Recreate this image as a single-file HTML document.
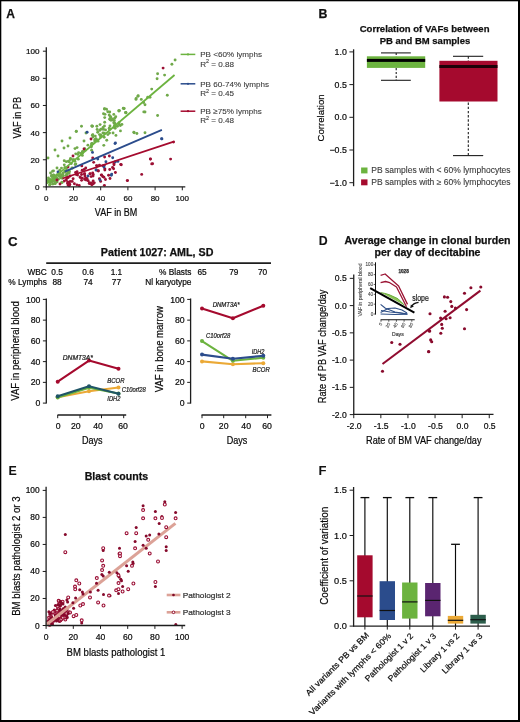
<!DOCTYPE html>
<html><head><meta charset="utf-8"><style>
html,body{margin:0;padding:0;background:#fff;}
body{width:520px;height:722px;overflow:hidden;}
svg{display:block;font-family:"Liberation Sans",sans-serif;filter:blur(0.35px);}
</style></head><body>
<svg width="520" height="722" viewBox="0 0 520 722">
<rect width="520" height="722" fill="#fff"/>
<rect x="0.00" y="0.00" width="520.00" height="1.30" fill="#000" />
<rect x="0.00" y="0.00" width="1.30" height="722.00" fill="#000" />
<rect x="518.00" y="0.00" width="2.00" height="722.00" fill="#000" />
<rect x="0.00" y="720.00" width="520.00" height="2.00" fill="#000" />
<text x="6.30" y="17.90" font-size="13.2" font-weight="bold" textLength="8.70" lengthAdjust="spacingAndGlyphs" fill="#111" stroke="#111" stroke-width="0.25">A</text>
<circle cx="175.10" cy="60.00" r="1.45" fill="#70a94a" />
<circle cx="171.90" cy="64.30" r="1.45" fill="#70a94a" />
<circle cx="157.60" cy="73.70" r="1.45" fill="#70a94a" />
<circle cx="164.60" cy="75.10" r="1.45" fill="#70a94a" />
<circle cx="157.10" cy="78.80" r="1.45" fill="#70a94a" />
<circle cx="151.70" cy="89.10" r="1.45" fill="#70a94a" />
<circle cx="167.30" cy="95.30" r="1.45" fill="#70a94a" />
<circle cx="138.20" cy="95.80" r="1.45" fill="#70a94a" />
<circle cx="136.10" cy="98.50" r="1.45" fill="#70a94a" />
<circle cx="143.60" cy="102.50" r="1.45" fill="#70a94a" />
<circle cx="147.70" cy="97.20" r="1.45" fill="#70a94a" />
<circle cx="150.00" cy="97.30" r="1.45" fill="#70a94a" />
<circle cx="145.00" cy="104.80" r="1.45" fill="#70a94a" />
<circle cx="141.30" cy="99.40" r="1.45" fill="#70a94a" />
<circle cx="145.00" cy="112.00" r="1.45" fill="#70a94a" />
<circle cx="157.60" cy="115.50" r="1.45" fill="#70a94a" />
<circle cx="124.20" cy="108.50" r="1.45" fill="#70a94a" />
<circle cx="119.40" cy="110.60" r="1.45" fill="#70a94a" />
<circle cx="123.50" cy="108.50" r="1.45" fill="#70a94a" />
<circle cx="125.60" cy="112.50" r="1.45" fill="#70a94a" />
<circle cx="143.80" cy="111.90" r="1.45" fill="#70a94a" />
<circle cx="134.20" cy="132.70" r="1.45" fill="#70a94a" />
<circle cx="136.90" cy="133.50" r="1.45" fill="#70a94a" />
<circle cx="145.00" cy="132.70" r="1.45" fill="#70a94a" />
<circle cx="76.30" cy="131.60" r="1.45" fill="#70a94a" />
<circle cx="92.50" cy="126.20" r="1.45" fill="#70a94a" />
<circle cx="106.50" cy="109.30" r="1.45" fill="#70a94a" />
<circle cx="104.40" cy="109.00" r="1.45" fill="#70a94a" />
<circle cx="118.80" cy="110.70" r="1.45" fill="#70a94a" />
<circle cx="125.80" cy="112.80" r="1.45" fill="#70a94a" />
<circle cx="104.60" cy="108.70" r="1.45" fill="#70a94a" />
<circle cx="81.50" cy="126.30" r="1.45" fill="#70a94a" />
<circle cx="91.90" cy="126.00" r="1.45" fill="#70a94a" />
<circle cx="76.30" cy="131.20" r="1.45" fill="#70a94a" />
<circle cx="103.50" cy="113.80" r="1.45" fill="#70a94a" />
<circle cx="109.20" cy="115.00" r="1.45" fill="#70a94a" />
<circle cx="113.80" cy="114.40" r="1.45" fill="#70a94a" />
<circle cx="126.00" cy="112.70" r="1.45" fill="#70a94a" />
<circle cx="123.30" cy="108.30" r="1.45" fill="#70a94a" />
<circle cx="119.00" cy="111.00" r="1.45" fill="#70a94a" />
<circle cx="137.90" cy="96.30" r="1.45" fill="#70a94a" />
<circle cx="136.00" cy="99.40" r="1.45" fill="#70a94a" />
<circle cx="133.80" cy="132.30" r="1.45" fill="#70a94a" />
<circle cx="97.70" cy="132.30" r="1.45" fill="#70a94a" />
<circle cx="92.90" cy="137.10" r="1.45" fill="#70a94a" />
<circle cx="100.10" cy="124.60" r="1.45" fill="#70a94a" />
<circle cx="91.90" cy="126.10" r="1.45" fill="#70a94a" />
<circle cx="62.00" cy="141.00" r="1.45" fill="#70a94a" />
<circle cx="64.00" cy="148.00" r="1.45" fill="#70a94a" />
<circle cx="55.00" cy="150.00" r="1.45" fill="#70a94a" />
<circle cx="48.00" cy="158.00" r="1.45" fill="#70a94a" />
<circle cx="58.00" cy="156.00" r="1.45" fill="#70a94a" />
<circle cx="68.00" cy="146.00" r="1.45" fill="#70a94a" />
<circle cx="70.00" cy="138.00" r="1.45" fill="#70a94a" />
<circle cx="86.00" cy="133.00" r="1.45" fill="#70a94a" />
<circle cx="84.00" cy="141.00" r="1.45" fill="#70a94a" />
<circle cx="91.76" cy="143.51" r="1.45" fill="#70a94a" />
<circle cx="109.71" cy="118.90" r="1.45" fill="#70a94a" />
<circle cx="100.57" cy="136.96" r="1.45" fill="#70a94a" />
<circle cx="80.85" cy="153.36" r="1.45" fill="#70a94a" />
<circle cx="111.00" cy="120.18" r="1.45" fill="#70a94a" />
<circle cx="52.61" cy="171.27" r="1.45" fill="#70a94a" />
<circle cx="81.43" cy="153.52" r="1.45" fill="#70a94a" />
<circle cx="91.64" cy="150.17" r="1.45" fill="#70a94a" />
<circle cx="50.31" cy="182.62" r="1.45" fill="#70a94a" />
<circle cx="114.15" cy="127.38" r="1.45" fill="#70a94a" />
<circle cx="104.17" cy="137.31" r="1.45" fill="#70a94a" />
<circle cx="62.23" cy="178.26" r="1.45" fill="#70a94a" />
<circle cx="91.71" cy="144.21" r="1.45" fill="#70a94a" />
<circle cx="109.23" cy="128.21" r="1.45" fill="#70a94a" />
<circle cx="64.94" cy="171.43" r="1.45" fill="#70a94a" />
<circle cx="115.94" cy="135.42" r="1.45" fill="#70a94a" />
<circle cx="71.90" cy="167.99" r="1.45" fill="#70a94a" />
<circle cx="95.05" cy="139.50" r="1.45" fill="#70a94a" />
<circle cx="66.60" cy="173.89" r="1.45" fill="#70a94a" />
<circle cx="114.35" cy="120.63" r="1.45" fill="#70a94a" />
<circle cx="109.97" cy="125.93" r="1.45" fill="#70a94a" />
<circle cx="62.64" cy="174.94" r="1.45" fill="#70a94a" />
<circle cx="60.94" cy="175.89" r="1.45" fill="#70a94a" />
<circle cx="91.43" cy="145.90" r="1.45" fill="#70a94a" />
<circle cx="48.27" cy="181.73" r="1.45" fill="#70a94a" />
<circle cx="68.40" cy="161.30" r="1.45" fill="#70a94a" />
<circle cx="103.38" cy="129.13" r="1.45" fill="#70a94a" />
<circle cx="82.46" cy="152.96" r="1.45" fill="#70a94a" />
<circle cx="103.80" cy="145.37" r="1.45" fill="#70a94a" />
<circle cx="52.89" cy="184.09" r="1.45" fill="#70a94a" />
<circle cx="101.00" cy="136.05" r="1.45" fill="#70a94a" />
<circle cx="102.97" cy="132.95" r="1.45" fill="#70a94a" />
<circle cx="73.98" cy="159.61" r="1.45" fill="#70a94a" />
<circle cx="52.07" cy="179.89" r="1.45" fill="#70a94a" />
<circle cx="63.03" cy="173.29" r="1.45" fill="#70a94a" />
<circle cx="100.70" cy="134.90" r="1.45" fill="#70a94a" />
<circle cx="115.23" cy="126.71" r="1.45" fill="#70a94a" />
<circle cx="72.69" cy="159.78" r="1.45" fill="#70a94a" />
<circle cx="85.39" cy="150.15" r="1.45" fill="#70a94a" />
<circle cx="99.49" cy="134.60" r="1.45" fill="#70a94a" />
<circle cx="104.43" cy="133.24" r="1.45" fill="#70a94a" />
<circle cx="113.75" cy="122.85" r="1.45" fill="#70a94a" />
<circle cx="53.49" cy="175.28" r="1.45" fill="#70a94a" />
<circle cx="115.16" cy="128.24" r="1.45" fill="#70a94a" />
<circle cx="75.16" cy="164.55" r="1.45" fill="#70a94a" />
<circle cx="69.16" cy="161.79" r="1.45" fill="#70a94a" />
<circle cx="71.29" cy="163.51" r="1.45" fill="#70a94a" />
<circle cx="60.15" cy="174.58" r="1.45" fill="#70a94a" />
<circle cx="97.99" cy="141.16" r="1.45" fill="#70a94a" />
<circle cx="52.32" cy="179.91" r="1.45" fill="#70a94a" />
<circle cx="114.66" cy="118.18" r="1.45" fill="#70a94a" />
<circle cx="64.86" cy="167.48" r="1.45" fill="#70a94a" />
<circle cx="91.22" cy="146.93" r="1.45" fill="#70a94a" />
<circle cx="75.73" cy="153.83" r="1.45" fill="#70a94a" />
<circle cx="53.38" cy="180.08" r="1.45" fill="#70a94a" />
<circle cx="82.74" cy="151.56" r="1.45" fill="#70a94a" />
<circle cx="109.54" cy="133.12" r="1.45" fill="#70a94a" />
<circle cx="117.42" cy="126.32" r="1.45" fill="#70a94a" />
<circle cx="92.77" cy="143.58" r="1.45" fill="#70a94a" />
<circle cx="77.86" cy="154.40" r="1.45" fill="#70a94a" />
<circle cx="60.44" cy="174.84" r="1.45" fill="#70a94a" />
<circle cx="78.59" cy="152.61" r="1.45" fill="#70a94a" />
<circle cx="121.92" cy="124.39" r="1.45" fill="#70a94a" />
<circle cx="74.99" cy="148.61" r="1.45" fill="#70a94a" />
<circle cx="82.33" cy="151.86" r="1.45" fill="#70a94a" />
<circle cx="66.33" cy="161.65" r="1.45" fill="#70a94a" />
<circle cx="78.29" cy="159.13" r="1.45" fill="#70a94a" />
<circle cx="119.08" cy="122.79" r="1.45" fill="#70a94a" />
<circle cx="113.23" cy="120.35" r="1.45" fill="#70a94a" />
<circle cx="70.31" cy="159.44" r="1.45" fill="#70a94a" />
<circle cx="54.56" cy="176.74" r="1.45" fill="#70a94a" />
<circle cx="113.05" cy="132.95" r="1.45" fill="#70a94a" />
<circle cx="74.87" cy="161.27" r="1.45" fill="#70a94a" />
<circle cx="92.84" cy="134.77" r="1.45" fill="#70a94a" />
<circle cx="94.96" cy="141.32" r="1.45" fill="#70a94a" />
<circle cx="95.31" cy="136.10" r="1.45" fill="#70a94a" />
<circle cx="64.24" cy="160.77" r="1.45" fill="#70a94a" />
<circle cx="97.04" cy="139.88" r="1.45" fill="#70a94a" />
<circle cx="72.59" cy="168.11" r="1.45" fill="#70a94a" />
<circle cx="87.89" cy="145.13" r="1.45" fill="#70a94a" />
<circle cx="48.03" cy="180.34" r="1.45" fill="#70a94a" />
<circle cx="94.81" cy="140.10" r="1.45" fill="#70a94a" />
<circle cx="82.37" cy="155.40" r="1.45" fill="#70a94a" />
<circle cx="100.83" cy="129.24" r="1.45" fill="#70a94a" />
<circle cx="70.55" cy="158.40" r="1.45" fill="#70a94a" />
<circle cx="103.02" cy="127.40" r="1.45" fill="#70a94a" />
<circle cx="75.85" cy="163.91" r="1.45" fill="#70a94a" />
<circle cx="92.40" cy="135.15" r="1.45" fill="#70a94a" />
<circle cx="119.18" cy="124.60" r="1.45" fill="#70a94a" />
<circle cx="84.73" cy="148.78" r="1.45" fill="#70a94a" />
<circle cx="63.42" cy="175.77" r="1.45" fill="#70a94a" />
<circle cx="77.04" cy="147.58" r="1.45" fill="#70a94a" />
<circle cx="95.96" cy="138.63" r="1.45" fill="#70a94a" />
<circle cx="57.00" cy="167.95" r="1.45" fill="#70a94a" />
<circle cx="99.71" cy="130.40" r="1.45" fill="#70a94a" />
<circle cx="54.62" cy="177.00" r="1.45" fill="#70a94a" />
<circle cx="60.47" cy="175.21" r="1.45" fill="#70a94a" />
<circle cx="59.75" cy="170.26" r="1.45" fill="#70a94a" />
<circle cx="62.19" cy="176.10" r="1.45" fill="#70a94a" />
<circle cx="50.66" cy="180.97" r="1.45" fill="#70a94a" />
<circle cx="56.99" cy="177.61" r="1.45" fill="#70a94a" />
<circle cx="50.36" cy="184.25" r="1.45" fill="#70a94a" />
<circle cx="54.13" cy="180.83" r="1.45" fill="#70a94a" />
<circle cx="55.07" cy="175.64" r="1.45" fill="#70a94a" />
<circle cx="60.98" cy="177.23" r="1.45" fill="#70a94a" />
<circle cx="52.05" cy="181.78" r="1.45" fill="#70a94a" />
<circle cx="55.48" cy="178.66" r="1.45" fill="#70a94a" />
<circle cx="52.14" cy="180.16" r="1.45" fill="#70a94a" />
<circle cx="64.91" cy="171.56" r="1.45" fill="#70a94a" />
<circle cx="57.13" cy="181.92" r="1.45" fill="#70a94a" />
<circle cx="49.52" cy="184.90" r="1.45" fill="#70a94a" />
<circle cx="57.26" cy="174.80" r="1.45" fill="#70a94a" />
<circle cx="69.01" cy="170.95" r="1.45" fill="#70a94a" />
<circle cx="61.48" cy="168.11" r="1.45" fill="#70a94a" />
<circle cx="62.00" cy="176.20" r="1.45" fill="#70a94a" />
<circle cx="56.19" cy="181.02" r="1.45" fill="#70a94a" />
<circle cx="60.62" cy="177.92" r="1.45" fill="#70a94a" />
<circle cx="69.37" cy="171.42" r="1.45" fill="#70a94a" />
<circle cx="53.91" cy="179.14" r="1.45" fill="#70a94a" />
<circle cx="66.57" cy="170.86" r="1.45" fill="#70a94a" />
<circle cx="58.89" cy="175.82" r="1.45" fill="#70a94a" />
<circle cx="61.43" cy="176.69" r="1.45" fill="#70a94a" />
<circle cx="67.56" cy="172.11" r="1.45" fill="#70a94a" />
<circle cx="53.79" cy="177.95" r="1.45" fill="#70a94a" />
<circle cx="53.63" cy="181.34" r="1.45" fill="#70a94a" />
<circle cx="64.28" cy="164.83" r="1.45" fill="#70a94a" />
<circle cx="69.15" cy="173.00" r="1.45" fill="#70a94a" />
<circle cx="59.22" cy="174.93" r="1.45" fill="#70a94a" />
<circle cx="62.18" cy="182.61" r="1.45" fill="#70a94a" />
<circle cx="53.67" cy="176.13" r="1.45" fill="#70a94a" />
<circle cx="61.75" cy="182.31" r="1.45" fill="#70a94a" />
<circle cx="52.16" cy="179.85" r="1.45" fill="#70a94a" />
<circle cx="60.18" cy="174.95" r="1.45" fill="#70a94a" />
<circle cx="55.52" cy="177.10" r="1.45" fill="#70a94a" />
<circle cx="67.21" cy="174.44" r="1.45" fill="#70a94a" />
<circle cx="66.37" cy="168.84" r="1.45" fill="#70a94a" />
<circle cx="110.90" cy="117.38" r="1.45" fill="#70a94a" />
<circle cx="109.61" cy="129.19" r="1.45" fill="#70a94a" />
<circle cx="114.99" cy="123.47" r="1.45" fill="#70a94a" />
<circle cx="104.70" cy="117.59" r="1.45" fill="#70a94a" />
<circle cx="104.99" cy="114.33" r="1.45" fill="#70a94a" />
<circle cx="109.88" cy="119.49" r="1.45" fill="#70a94a" />
<circle cx="110.33" cy="116.40" r="1.45" fill="#70a94a" />
<circle cx="104.69" cy="122.30" r="1.45" fill="#70a94a" />
<circle cx="107.86" cy="134.58" r="1.45" fill="#70a94a" />
<circle cx="104.46" cy="125.89" r="1.45" fill="#70a94a" />
<circle cx="109.75" cy="111.97" r="1.45" fill="#70a94a" />
<circle cx="114.46" cy="125.56" r="1.45" fill="#70a94a" />
<circle cx="97.14" cy="129.52" r="1.45" fill="#70a94a" />
<circle cx="115.74" cy="116.68" r="1.45" fill="#70a94a" />
<circle cx="120.37" cy="125.43" r="1.45" fill="#70a94a" />
<circle cx="102.94" cy="129.17" r="1.45" fill="#70a94a" />
<circle cx="107.80" cy="111.71" r="1.45" fill="#70a94a" />
<circle cx="96.87" cy="126.25" r="1.45" fill="#70a94a" />
<circle cx="105.50" cy="129.92" r="1.45" fill="#70a94a" />
<circle cx="112.37" cy="119.23" r="1.45" fill="#70a94a" />
<circle cx="106.75" cy="140.23" r="1.45" fill="#70a94a" />
<circle cx="120.45" cy="130.90" r="1.45" fill="#70a94a" />
<circle cx="50.55" cy="172.99" r="1.45" fill="#70a94a" />
<circle cx="53.88" cy="176.52" r="1.45" fill="#70a94a" />
<circle cx="48.42" cy="178.07" r="1.45" fill="#70a94a" />
<circle cx="55.03" cy="183.46" r="1.45" fill="#70a94a" />
<circle cx="52.57" cy="176.26" r="1.45" fill="#70a94a" />
<circle cx="53.53" cy="170.87" r="1.45" fill="#70a94a" />
<circle cx="58.32" cy="179.28" r="1.45" fill="#70a94a" />
<circle cx="66.18" cy="175.61" r="1.45" fill="#70a94a" />
<circle cx="51.62" cy="176.49" r="1.45" fill="#70a94a" />
<circle cx="53.54" cy="175.05" r="1.45" fill="#70a94a" />
<circle cx="51.50" cy="175.39" r="1.45" fill="#70a94a" />
<circle cx="55.24" cy="183.55" r="1.45" fill="#70a94a" />
<circle cx="49.97" cy="179.53" r="1.45" fill="#70a94a" />
<circle cx="150.40" cy="159.10" r="1.45" fill="#9c1034" />
<circle cx="151.70" cy="163.90" r="1.45" fill="#9c1034" />
<circle cx="170.60" cy="159.10" r="1.45" fill="#9c1034" />
<circle cx="127.50" cy="180.60" r="1.45" fill="#9c1034" />
<circle cx="120.70" cy="164.50" r="1.45" fill="#9c1034" />
<circle cx="108.60" cy="175.20" r="1.45" fill="#9c1034" />
<circle cx="115.40" cy="172.50" r="1.45" fill="#9c1034" />
<circle cx="150.40" cy="159.00" r="1.45" fill="#9c1034" />
<circle cx="152.60" cy="163.80" r="1.45" fill="#9c1034" />
<circle cx="121.30" cy="164.80" r="1.45" fill="#9c1034" />
<circle cx="114.00" cy="164.80" r="1.45" fill="#9c1034" />
<circle cx="113.60" cy="168.70" r="1.45" fill="#9c1034" />
<circle cx="141.70" cy="174.40" r="1.45" fill="#9c1034" />
<circle cx="127.30" cy="180.60" r="1.45" fill="#9c1034" />
<circle cx="110.00" cy="178.50" r="1.45" fill="#9c1034" />
<circle cx="173.50" cy="142.10" r="1.45" fill="#9c1034" />
<circle cx="163.10" cy="68.10" r="1.45" fill="#9c1034" />
<circle cx="73.00" cy="156.00" r="1.45" fill="#9c1034" />
<circle cx="84.00" cy="149.00" r="1.45" fill="#9c1034" />
<circle cx="91.00" cy="139.00" r="1.45" fill="#9c1034" />
<circle cx="68.00" cy="167.00" r="1.45" fill="#9c1034" />
<circle cx="60.00" cy="184.00" r="1.45" fill="#9c1034" />
<circle cx="57.00" cy="180.00" r="1.45" fill="#9c1034" />
<circle cx="98.34" cy="170.98" r="1.45" fill="#9c1034" />
<circle cx="84.68" cy="173.79" r="1.45" fill="#9c1034" />
<circle cx="69.82" cy="184.51" r="1.45" fill="#9c1034" />
<circle cx="104.82" cy="168.83" r="1.45" fill="#9c1034" />
<circle cx="112.55" cy="167.54" r="1.45" fill="#9c1034" />
<circle cx="82.24" cy="178.11" r="1.45" fill="#9c1034" />
<circle cx="92.69" cy="158.02" r="1.45" fill="#9c1034" />
<circle cx="84.45" cy="174.00" r="1.45" fill="#9c1034" />
<circle cx="66.72" cy="178.11" r="1.45" fill="#9c1034" />
<circle cx="97.24" cy="166.07" r="1.45" fill="#9c1034" />
<circle cx="93.02" cy="176.00" r="1.45" fill="#9c1034" />
<circle cx="96.45" cy="165.60" r="1.45" fill="#9c1034" />
<circle cx="77.07" cy="171.82" r="1.45" fill="#9c1034" />
<circle cx="104.14" cy="165.33" r="1.45" fill="#9c1034" />
<circle cx="92.69" cy="173.01" r="1.45" fill="#9c1034" />
<circle cx="84.91" cy="175.90" r="1.45" fill="#9c1034" />
<circle cx="104.86" cy="169.96" r="1.45" fill="#9c1034" />
<circle cx="101.63" cy="174.98" r="1.45" fill="#9c1034" />
<circle cx="68.26" cy="177.44" r="1.45" fill="#9c1034" />
<circle cx="70.14" cy="175.95" r="1.45" fill="#9c1034" />
<circle cx="96.31" cy="170.00" r="1.45" fill="#9c1034" />
<circle cx="93.17" cy="181.04" r="1.45" fill="#9c1034" />
<circle cx="81.57" cy="174.51" r="1.45" fill="#9c1034" />
<circle cx="102.78" cy="165.84" r="1.45" fill="#9c1034" />
<circle cx="69.17" cy="185.86" r="1.45" fill="#9c1034" />
<circle cx="103.94" cy="177.23" r="1.45" fill="#9c1034" />
<circle cx="79.21" cy="185.48" r="1.45" fill="#9c1034" />
<circle cx="102.74" cy="176.51" r="1.45" fill="#9c1034" />
<circle cx="109.73" cy="169.47" r="1.45" fill="#9c1034" />
<circle cx="84.84" cy="178.73" r="1.45" fill="#9c1034" />
<circle cx="75.60" cy="172.50" r="1.45" fill="#9c1034" />
<circle cx="84.72" cy="179.39" r="1.45" fill="#9c1034" />
<circle cx="86.78" cy="178.91" r="1.45" fill="#9c1034" />
<circle cx="101.24" cy="175.10" r="1.45" fill="#9c1034" />
<circle cx="104.62" cy="157.05" r="1.45" fill="#9c1034" />
<circle cx="93.20" cy="174.45" r="1.45" fill="#9c1034" />
<circle cx="93.68" cy="162.36" r="1.45" fill="#9c1034" />
<circle cx="84.20" cy="169.42" r="1.45" fill="#9c1034" />
<circle cx="70.28" cy="181.38" r="1.45" fill="#9c1034" />
<circle cx="66.35" cy="179.95" r="1.45" fill="#9c1034" />
<circle cx="109.37" cy="156.03" r="1.45" fill="#9c1034" />
<circle cx="64.34" cy="180.95" r="1.45" fill="#9c1034" />
<circle cx="91.08" cy="176.61" r="1.45" fill="#9c1034" />
<circle cx="85.74" cy="168.07" r="1.45" fill="#9c1034" />
<circle cx="89.88" cy="173.85" r="1.45" fill="#9c1034" />
<circle cx="73.13" cy="178.75" r="1.45" fill="#9c1034" />
<circle cx="81.78" cy="165.90" r="1.45" fill="#9c1034" />
<circle cx="74.36" cy="183.70" r="1.45" fill="#9c1034" />
<circle cx="77.56" cy="174.94" r="1.45" fill="#9c1034" />
<circle cx="80.43" cy="177.61" r="1.45" fill="#9c1034" />
<circle cx="76.30" cy="174.56" r="1.45" fill="#9c1034" />
<circle cx="113.97" cy="163.50" r="1.45" fill="#9c1034" />
<circle cx="86.16" cy="180.05" r="1.45" fill="#9c1034" />
<circle cx="99.47" cy="165.12" r="1.45" fill="#9c1034" />
<circle cx="90.22" cy="173.75" r="1.45" fill="#9c1034" />
<circle cx="86.15" cy="178.38" r="1.45" fill="#9c1034" />
<circle cx="80.04" cy="177.04" r="1.45" fill="#9c1034" />
<circle cx="72.18" cy="181.39" r="1.45" fill="#9c1034" />
<circle cx="94.30" cy="182.86" r="1.45" fill="#9c1034" />
<circle cx="89.24" cy="183.57" r="1.45" fill="#9c1034" />
<circle cx="93.26" cy="183.75" r="1.45" fill="#9c1034" />
<circle cx="86.27" cy="178.30" r="1.45" fill="#9c1034" />
<circle cx="99.44" cy="178.66" r="1.45" fill="#9c1034" />
<circle cx="105.47" cy="179.52" r="1.45" fill="#9c1034" />
<circle cx="81.56" cy="180.36" r="1.45" fill="#9c1034" />
<circle cx="104.40" cy="185.37" r="1.45" fill="#9c1034" />
<circle cx="82.21" cy="170.13" r="1.45" fill="#9c1034" />
<circle cx="100.64" cy="181.42" r="1.45" fill="#9c1034" />
<circle cx="88.15" cy="180.75" r="1.45" fill="#9c1034" />
<circle cx="76.89" cy="184.84" r="1.45" fill="#9c1034" />
<circle cx="91.87" cy="184.83" r="1.45" fill="#9c1034" />
<circle cx="87.13" cy="178.96" r="1.45" fill="#9c1034" />
<circle cx="98.19" cy="170.64" r="1.45" fill="#9c1034" />
<circle cx="89.43" cy="182.82" r="1.45" fill="#9c1034" />
<circle cx="90.72" cy="183.82" r="1.45" fill="#9c1034" />
<circle cx="91.45" cy="182.86" r="1.45" fill="#9c1034" />
<circle cx="68.85" cy="182.57" r="1.45" fill="#9c1034" />
<circle cx="69.41" cy="184.53" r="1.45" fill="#9c1034" />
<circle cx="68.26" cy="185.24" r="1.45" fill="#9c1034" />
<circle cx="67.67" cy="181.97" r="1.45" fill="#9c1034" />
<circle cx="67.84" cy="183.18" r="1.45" fill="#9c1034" />
<circle cx="67.75" cy="183.63" r="1.45" fill="#9c1034" />
<circle cx="115.40" cy="142.90" r="1.45" fill="#2b4c8c" />
<circle cx="161.90" cy="138.90" r="1.45" fill="#2b4c8c" />
<circle cx="112.70" cy="157.70" r="1.45" fill="#2b4c8c" />
<circle cx="115.40" cy="161.80" r="1.45" fill="#2b4c8c" />
<circle cx="105.90" cy="161.80" r="1.45" fill="#2b4c8c" />
<circle cx="97.80" cy="159.10" r="1.45" fill="#2b4c8c" />
<circle cx="87.10" cy="132.20" r="1.45" fill="#2b4c8c" />
<circle cx="92.50" cy="152.40" r="1.45" fill="#2b4c8c" />
<circle cx="111.30" cy="175.20" r="1.45" fill="#2b4c8c" />
<circle cx="161.60" cy="138.80" r="1.45" fill="#2b4c8c" />
<circle cx="115.00" cy="143.60" r="1.45" fill="#2b4c8c" />
<circle cx="117.90" cy="161.40" r="1.45" fill="#2b4c8c" />
<circle cx="111.70" cy="174.10" r="1.45" fill="#2b4c8c" />
<circle cx="104.00" cy="167.00" r="1.45" fill="#2b4c8c" />
<circle cx="96.00" cy="170.00" r="1.45" fill="#2b4c8c" />
<circle cx="58.00" cy="172.00" r="1.45" fill="#2b4c8c" />
<circle cx="88.00" cy="176.00" r="1.45" fill="#2b4c8c" />
<circle cx="100.00" cy="180.00" r="1.45" fill="#2b4c8c" />
<line x1="46.98" y1="183.64" x2="174.55" y2="74.95" stroke="#6cb33f" stroke-width="1.8" />
<line x1="64.80" y1="171.57" x2="161.90" y2="129.91" stroke="#2b4c8c" stroke-width="1.8" />
<line x1="62.48" y1="178.49" x2="174.55" y2="141.44" stroke="#a50a2e" stroke-width="1.8" />
<line x1="46.30" y1="47.30" x2="46.30" y2="187.40" stroke="#1e1e1e" stroke-width="1.3" />
<line x1="45.80" y1="186.90" x2="185.30" y2="186.90" stroke="#1e1e1e" stroke-width="1.3" />
<line x1="42.90" y1="186.90" x2="46.30" y2="186.90" stroke="#1e1e1e" stroke-width="1.0" />
<text x="39.40" y="189.80" font-size="8.1" text-anchor="end" stroke="#1e1e1e" stroke-width="0.22">0</text>
<line x1="46.30" y1="186.90" x2="46.30" y2="190.30" stroke="#1e1e1e" stroke-width="1.0" />
<text x="46.30" y="200.80" font-size="8.0" text-anchor="middle" stroke="#1e1e1e" stroke-width="0.22">0</text>
<line x1="42.90" y1="159.76" x2="46.30" y2="159.76" stroke="#1e1e1e" stroke-width="1.0" />
<text x="39.40" y="162.66" font-size="8.1" text-anchor="end" stroke="#1e1e1e" stroke-width="0.22">20</text>
<line x1="73.50" y1="186.90" x2="73.50" y2="190.30" stroke="#1e1e1e" stroke-width="1.0" />
<text x="73.50" y="200.80" font-size="8.0" text-anchor="middle" stroke="#1e1e1e" stroke-width="0.22">20</text>
<line x1="42.90" y1="132.62" x2="46.30" y2="132.62" stroke="#1e1e1e" stroke-width="1.0" />
<text x="39.40" y="135.52" font-size="8.1" text-anchor="end" stroke="#1e1e1e" stroke-width="0.22">40</text>
<line x1="100.70" y1="186.90" x2="100.70" y2="190.30" stroke="#1e1e1e" stroke-width="1.0" />
<text x="100.70" y="200.80" font-size="8.0" text-anchor="middle" stroke="#1e1e1e" stroke-width="0.22">40</text>
<line x1="42.90" y1="105.48" x2="46.30" y2="105.48" stroke="#1e1e1e" stroke-width="1.0" />
<text x="39.40" y="108.38" font-size="8.1" text-anchor="end" stroke="#1e1e1e" stroke-width="0.22">60</text>
<line x1="127.90" y1="186.90" x2="127.90" y2="190.30" stroke="#1e1e1e" stroke-width="1.0" />
<text x="127.90" y="200.80" font-size="8.0" text-anchor="middle" stroke="#1e1e1e" stroke-width="0.22">60</text>
<line x1="42.90" y1="78.34" x2="46.30" y2="78.34" stroke="#1e1e1e" stroke-width="1.0" />
<text x="39.40" y="81.24" font-size="8.1" text-anchor="end" stroke="#1e1e1e" stroke-width="0.22">80</text>
<line x1="155.10" y1="186.90" x2="155.10" y2="190.30" stroke="#1e1e1e" stroke-width="1.0" />
<text x="155.10" y="200.80" font-size="8.0" text-anchor="middle" stroke="#1e1e1e" stroke-width="0.22">80</text>
<line x1="42.90" y1="51.20" x2="46.30" y2="51.20" stroke="#1e1e1e" stroke-width="1.0" />
<text x="39.40" y="54.10" font-size="8.1" text-anchor="end" stroke="#1e1e1e" stroke-width="0.22">100</text>
<line x1="182.30" y1="186.90" x2="182.30" y2="190.30" stroke="#1e1e1e" stroke-width="1.0" />
<text x="182.30" y="200.80" font-size="8.0" text-anchor="middle" stroke="#1e1e1e" stroke-width="0.22">100</text>
<text x="20.90" y="117.70" font-size="10.6" text-anchor="middle" textLength="41.50" lengthAdjust="spacingAndGlyphs" stroke="#1e1e1e" stroke-width="0.22" transform="rotate(-90 20.90 117.70)">VAF in PB</text>
<text x="116.00" y="215.70" font-size="10.6" text-anchor="middle" textLength="42.30" lengthAdjust="spacingAndGlyphs" stroke="#1e1e1e" stroke-width="0.22">VAF in BM</text>
<line x1="180.60" y1="54.40" x2="195.30" y2="54.40" stroke="#6cb33f" stroke-width="1.5" />
<circle cx="188.00" cy="54.40" r="1.1" fill="#6cb33f" />
<text x="200.20" y="57.30" font-size="8.1" fill="#3a3a3a" stroke="#3a3a3a" stroke-width="0.1">PB &lt;60% lymphs</text>
<text x="200.2" y="66.50" font-size="8.1" fill="#3a3a3a" stroke="#3a3a3a" stroke-width="0.1">R<tspan dy="-3.2" font-size="5.4">2</tspan><tspan dy="3.2"> = 0.88</tspan></text>
<line x1="180.60" y1="83.80" x2="195.30" y2="83.80" stroke="#2b4c8c" stroke-width="1.5" />
<circle cx="188.00" cy="83.80" r="1.1" fill="#2b4c8c" />
<text x="200.20" y="86.70" font-size="8.1" fill="#3a3a3a" stroke="#3a3a3a" stroke-width="0.1">PB 60-74% lymphs</text>
<text x="200.2" y="95.90" font-size="8.1" fill="#3a3a3a" stroke="#3a3a3a" stroke-width="0.1">R<tspan dy="-3.2" font-size="5.4">2</tspan><tspan dy="3.2"> = 0.45</tspan></text>
<line x1="180.60" y1="111.20" x2="195.30" y2="111.20" stroke="#a50a2e" stroke-width="1.5" />
<circle cx="188.00" cy="111.20" r="1.1" fill="#a50a2e" />
<text x="200.20" y="114.10" font-size="8.1" fill="#3a3a3a" stroke="#3a3a3a" stroke-width="0.1">PB ≥75% lymphs</text>
<text x="200.2" y="123.30" font-size="8.1" fill="#3a3a3a" stroke="#3a3a3a" stroke-width="0.1">R<tspan dy="-3.2" font-size="5.4">2</tspan><tspan dy="3.2"> = 0.48</tspan></text>
<text x="318.40" y="18.10" font-size="12.4" font-weight="bold" textLength="8.90" lengthAdjust="spacingAndGlyphs" fill="#111" stroke="#111" stroke-width="0.25">B</text>
<text x="424.60" y="31.70" font-size="9.6" text-anchor="middle" font-weight="bold" textLength="129.80" lengthAdjust="spacingAndGlyphs" fill="#111" stroke="#111" stroke-width="0.25">Correlation of VAFs between</text>
<text x="425.00" y="43.50" font-size="9.6" text-anchor="middle" font-weight="bold" textLength="90.50" lengthAdjust="spacingAndGlyphs" fill="#111" stroke="#111" stroke-width="0.25">PB and BM samples</text>
<line x1="353.60" y1="49.30" x2="353.60" y2="186.20" stroke="#1e1e1e" stroke-width="1.3" />
<line x1="349.40" y1="51.90" x2="353.60" y2="51.90" stroke="#1e1e1e" stroke-width="1.0" />
<text x="346.80" y="55.00" font-size="8.8" text-anchor="end" stroke="#1e1e1e" stroke-width="0.22">1.0</text>
<line x1="349.40" y1="84.60" x2="353.60" y2="84.60" stroke="#1e1e1e" stroke-width="1.0" />
<text x="346.80" y="87.70" font-size="8.8" text-anchor="end" stroke="#1e1e1e" stroke-width="0.22">0.5</text>
<line x1="349.40" y1="117.30" x2="353.60" y2="117.30" stroke="#1e1e1e" stroke-width="1.0" />
<text x="346.80" y="120.40" font-size="8.8" text-anchor="end" stroke="#1e1e1e" stroke-width="0.22">0.0</text>
<line x1="349.40" y1="150.00" x2="353.60" y2="150.00" stroke="#1e1e1e" stroke-width="1.0" />
<text x="346.80" y="153.10" font-size="8.8" text-anchor="end" stroke="#1e1e1e" stroke-width="0.22">−0.5</text>
<line x1="349.40" y1="182.70" x2="353.60" y2="182.70" stroke="#1e1e1e" stroke-width="1.0" />
<text x="346.80" y="185.80" font-size="8.8" text-anchor="end" stroke="#1e1e1e" stroke-width="0.22">−1.0</text>
<text x="324.40" y="117.90" font-size="9.8" text-anchor="middle" textLength="47.00" lengthAdjust="spacingAndGlyphs" stroke="#1e1e1e" stroke-width="0.22" transform="rotate(-90 324.40 117.90)">Correlation</text>
<line x1="396.20" y1="52.90" x2="396.20" y2="80.30" stroke="#1e1e1e" stroke-width="1.1" stroke-dasharray="2.2,1.6"/>
<line x1="381.00" y1="52.90" x2="410.80" y2="52.90" stroke="#1e1e1e" stroke-width="1.1" />
<line x1="381.00" y1="80.30" x2="410.80" y2="80.30" stroke="#1e1e1e" stroke-width="1.1" />
<rect x="366.90" y="56.30" width="58.30" height="11.60" fill="#6cb33f" />
<rect x="366.90" y="58.90" width="58.30" height="3.00" fill="#000" />
<line x1="468.30" y1="56.30" x2="468.30" y2="155.60" stroke="#1e1e1e" stroke-width="1.1" stroke-dasharray="2.4,1.8"/>
<line x1="453.00" y1="56.30" x2="483.20" y2="56.30" stroke="#1e1e1e" stroke-width="1.1" />
<line x1="453.00" y1="155.60" x2="483.20" y2="155.60" stroke="#1e1e1e" stroke-width="1.1" />
<rect x="439.40" y="60.80" width="58.10" height="40.70" fill="#a50a2e" />
<rect x="439.40" y="65.00" width="58.10" height="3.00" fill="#1c0208" />
<rect x="361.10" y="167.50" width="6.40" height="5.90" fill="#6cb33f" />
<rect x="361.10" y="179.40" width="6.40" height="5.90" fill="#a50a2e" />
<text x="371.30" y="173.40" font-size="8.2" textLength="139.20" lengthAdjust="spacingAndGlyphs" fill="#3a3a3a" stroke="#3a3a3a" stroke-width="0.1">PB samples with &lt; 60% lymphocytes</text>
<text x="371.30" y="185.30" font-size="8.2" textLength="139.20" lengthAdjust="spacingAndGlyphs" fill="#3a3a3a" stroke="#3a3a3a" stroke-width="0.1">PB samples with ≥ 60% lymphocytes</text>
<text x="8.00" y="245.50" font-size="12.6" font-weight="bold" textLength="9.60" lengthAdjust="spacingAndGlyphs" fill="#111" stroke="#111" stroke-width="0.25">C</text>
<text x="157.10" y="256.00" font-size="10.0" text-anchor="middle" font-weight="bold" textLength="112.60" lengthAdjust="spacingAndGlyphs" fill="#111" stroke="#111" stroke-width="0.25">Patient 1027: AML, SD</text>
<line x1="46.20" y1="263.10" x2="271.00" y2="263.10" stroke="#1e1e1e" stroke-width="1.6" />
<text x="46.80" y="274.60" font-size="8.3" text-anchor="end" stroke="#1e1e1e" stroke-width="0.22">WBC</text>
<text x="46.80" y="285.20" font-size="8.3" text-anchor="end" stroke="#1e1e1e" stroke-width="0.22">% Lymphs</text>
<text x="57.10" y="274.60" font-size="8.3" text-anchor="middle" stroke="#1e1e1e" stroke-width="0.22">0.5</text>
<text x="57.10" y="285.20" font-size="8.3" text-anchor="middle" stroke="#1e1e1e" stroke-width="0.22">88</text>
<text x="88.00" y="274.60" font-size="8.3" text-anchor="middle" stroke="#1e1e1e" stroke-width="0.22">0.6</text>
<text x="88.00" y="285.20" font-size="8.3" text-anchor="middle" stroke="#1e1e1e" stroke-width="0.22">74</text>
<text x="116.40" y="274.60" font-size="8.3" text-anchor="middle" stroke="#1e1e1e" stroke-width="0.22">1.1</text>
<text x="116.40" y="285.20" font-size="8.3" text-anchor="middle" stroke="#1e1e1e" stroke-width="0.22">77</text>
<text x="191.40" y="274.60" font-size="8.3" text-anchor="end" stroke="#1e1e1e" stroke-width="0.22">% Blasts</text>
<text x="191.40" y="285.20" font-size="8.3" text-anchor="end" stroke="#1e1e1e" stroke-width="0.22">Nl karyotype</text>
<text x="202.00" y="274.60" font-size="8.3" text-anchor="middle" stroke="#1e1e1e" stroke-width="0.22">65</text>
<text x="233.80" y="274.60" font-size="8.3" text-anchor="middle" stroke="#1e1e1e" stroke-width="0.22">79</text>
<text x="262.60" y="274.60" font-size="8.3" text-anchor="middle" stroke="#1e1e1e" stroke-width="0.22">70</text>
<line x1="46.30" y1="298.50" x2="46.30" y2="403.60" stroke="#1e1e1e" stroke-width="1.3" />
<line x1="42.90" y1="403.10" x2="46.30" y2="403.10" stroke="#1e1e1e" stroke-width="1.0" />
<text x="40.40" y="406.20" font-size="8.7" text-anchor="end" stroke="#1e1e1e" stroke-width="0.22">0</text>
<line x1="42.90" y1="382.36" x2="46.30" y2="382.36" stroke="#1e1e1e" stroke-width="1.0" />
<text x="40.40" y="385.46" font-size="8.7" text-anchor="end" stroke="#1e1e1e" stroke-width="0.22">20</text>
<line x1="42.90" y1="361.62" x2="46.30" y2="361.62" stroke="#1e1e1e" stroke-width="1.0" />
<text x="40.40" y="364.72" font-size="8.7" text-anchor="end" stroke="#1e1e1e" stroke-width="0.22">40</text>
<line x1="42.90" y1="340.88" x2="46.30" y2="340.88" stroke="#1e1e1e" stroke-width="1.0" />
<text x="40.40" y="343.98" font-size="8.7" text-anchor="end" stroke="#1e1e1e" stroke-width="0.22">60</text>
<line x1="42.90" y1="320.14" x2="46.30" y2="320.14" stroke="#1e1e1e" stroke-width="1.0" />
<text x="40.40" y="323.24" font-size="8.7" text-anchor="end" stroke="#1e1e1e" stroke-width="0.22">80</text>
<line x1="42.90" y1="299.40" x2="46.30" y2="299.40" stroke="#1e1e1e" stroke-width="1.0" />
<text x="40.40" y="302.50" font-size="8.7" text-anchor="end" stroke="#1e1e1e" stroke-width="0.22">100</text>
<line x1="57.50" y1="415.00" x2="126.20" y2="415.00" stroke="#1e1e1e" stroke-width="1.4" />
<line x1="57.70" y1="415.00" x2="57.70" y2="418.20" stroke="#1e1e1e" stroke-width="1.0" />
<text x="58.10" y="429.20" font-size="8.7" text-anchor="middle" stroke="#1e1e1e" stroke-width="0.22">0</text>
<line x1="80.00" y1="415.00" x2="80.00" y2="418.20" stroke="#1e1e1e" stroke-width="1.0" />
<text x="75.80" y="429.20" font-size="8.7" text-anchor="middle" stroke="#1e1e1e" stroke-width="0.22">20</text>
<line x1="101.50" y1="415.00" x2="101.50" y2="418.20" stroke="#1e1e1e" stroke-width="1.0" />
<text x="98.00" y="429.20" font-size="8.7" text-anchor="middle" stroke="#1e1e1e" stroke-width="0.22">40</text>
<line x1="123.70" y1="415.00" x2="123.70" y2="418.20" stroke="#1e1e1e" stroke-width="1.0" />
<text x="123.10" y="429.20" font-size="8.7" text-anchor="middle" stroke="#1e1e1e" stroke-width="0.22">60</text>
<text x="92.35" y="443.50" font-size="10.2" text-anchor="middle" textLength="20.60" lengthAdjust="spacingAndGlyphs" stroke="#1e1e1e" stroke-width="0.22">Days</text>
<polyline points="57.70,397.20 89.00,391.30 118.50,387.50" fill="none" stroke="#eba936" stroke-width="2.1" stroke-linejoin="round" />
<circle cx="57.70" cy="397.20" r="2.0" fill="#eba936" />
<circle cx="89.00" cy="391.30" r="2.0" fill="#eba936" />
<circle cx="118.50" cy="387.50" r="2.0" fill="#eba936" />
<polyline points="57.70,397.50 89.00,387.70 118.50,393.50" fill="none" stroke="#6cb33f" stroke-width="2.1" stroke-linejoin="round" />
<circle cx="57.70" cy="397.50" r="2.0" fill="#6cb33f" />
<circle cx="89.00" cy="387.70" r="2.0" fill="#6cb33f" />
<circle cx="118.50" cy="393.50" r="2.0" fill="#6cb33f" />
<polyline points="57.70,396.30 89.00,386.30 118.50,393.80" fill="none" stroke="#1f5566" stroke-width="2.1" stroke-linejoin="round" />
<circle cx="57.70" cy="396.30" r="2.0" fill="#1f5566" />
<circle cx="89.00" cy="386.30" r="2.0" fill="#1f5566" />
<circle cx="118.50" cy="393.80" r="2.0" fill="#1f5566" />
<polyline points="57.70,381.70 89.00,360.60 118.50,368.80" fill="none" stroke="#a50a2e" stroke-width="2.1" stroke-linejoin="round" />
<circle cx="57.70" cy="381.70" r="2.0" fill="#a50a2e" />
<circle cx="89.00" cy="360.60" r="2.0" fill="#a50a2e" />
<circle cx="118.50" cy="368.80" r="2.0" fill="#a50a2e" />
<text x="62.70" y="360.00" font-size="6.3" font-style="italic" textLength="30.20" lengthAdjust="spacingAndGlyphs" fill="#222" stroke="#222" stroke-width="0.22">DNMT3A*</text>
<text x="107.30" y="383.30" font-size="6.3" font-style="italic" textLength="17.30" lengthAdjust="spacingAndGlyphs" fill="#222" stroke="#222" stroke-width="0.22">BCOR</text>
<text x="121.70" y="392.10" font-size="6.3" font-style="italic" textLength="24.00" lengthAdjust="spacingAndGlyphs" fill="#222" stroke="#222" stroke-width="0.22">C10orf28</text>
<text x="107.30" y="401.30" font-size="6.3" font-style="italic" textLength="13.10" lengthAdjust="spacingAndGlyphs" fill="#222" stroke="#222" stroke-width="0.22">IDH2</text>
<text x="18.80" y="351.00" font-size="10.4" text-anchor="middle" textLength="99.50" lengthAdjust="spacingAndGlyphs" stroke="#1e1e1e" stroke-width="0.22" transform="rotate(-90 18.80 351.00)">VAF in peripheral blood</text>
<line x1="190.60" y1="298.50" x2="190.60" y2="403.60" stroke="#1e1e1e" stroke-width="1.3" />
<line x1="187.20" y1="403.10" x2="190.60" y2="403.10" stroke="#1e1e1e" stroke-width="1.0" />
<text x="184.70" y="406.20" font-size="8.7" text-anchor="end" stroke="#1e1e1e" stroke-width="0.22">0</text>
<line x1="187.20" y1="382.36" x2="190.60" y2="382.36" stroke="#1e1e1e" stroke-width="1.0" />
<text x="184.70" y="385.46" font-size="8.7" text-anchor="end" stroke="#1e1e1e" stroke-width="0.22">20</text>
<line x1="187.20" y1="361.62" x2="190.60" y2="361.62" stroke="#1e1e1e" stroke-width="1.0" />
<text x="184.70" y="364.72" font-size="8.7" text-anchor="end" stroke="#1e1e1e" stroke-width="0.22">40</text>
<line x1="187.20" y1="340.88" x2="190.60" y2="340.88" stroke="#1e1e1e" stroke-width="1.0" />
<text x="184.70" y="343.98" font-size="8.7" text-anchor="end" stroke="#1e1e1e" stroke-width="0.22">60</text>
<line x1="187.20" y1="320.14" x2="190.60" y2="320.14" stroke="#1e1e1e" stroke-width="1.0" />
<text x="184.70" y="323.24" font-size="8.7" text-anchor="end" stroke="#1e1e1e" stroke-width="0.22">80</text>
<line x1="187.20" y1="299.40" x2="190.60" y2="299.40" stroke="#1e1e1e" stroke-width="1.0" />
<text x="184.70" y="302.50" font-size="8.7" text-anchor="end" stroke="#1e1e1e" stroke-width="0.22">100</text>
<line x1="201.50" y1="415.00" x2="271.40" y2="415.00" stroke="#1e1e1e" stroke-width="1.4" />
<line x1="202.00" y1="415.00" x2="202.00" y2="418.20" stroke="#1e1e1e" stroke-width="1.0" />
<text x="202.10" y="429.20" font-size="8.7" text-anchor="middle" stroke="#1e1e1e" stroke-width="0.22">0</text>
<line x1="223.70" y1="415.00" x2="223.70" y2="418.20" stroke="#1e1e1e" stroke-width="1.0" />
<text x="223.70" y="429.20" font-size="8.7" text-anchor="middle" stroke="#1e1e1e" stroke-width="0.22">20</text>
<line x1="245.70" y1="415.00" x2="245.70" y2="418.20" stroke="#1e1e1e" stroke-width="1.0" />
<text x="246.20" y="429.20" font-size="8.7" text-anchor="middle" stroke="#1e1e1e" stroke-width="0.22">40</text>
<line x1="267.50" y1="415.00" x2="267.50" y2="418.20" stroke="#1e1e1e" stroke-width="1.0" />
<text x="267.00" y="429.20" font-size="8.7" text-anchor="middle" stroke="#1e1e1e" stroke-width="0.22">60</text>
<text x="236.95" y="443.50" font-size="10.2" text-anchor="middle" textLength="20.60" lengthAdjust="spacingAndGlyphs" stroke="#1e1e1e" stroke-width="0.22">Days</text>
<polyline points="202.00,361.40 232.90,364.20 263.30,363.20" fill="none" stroke="#eba936" stroke-width="2.1" stroke-linejoin="round" />
<circle cx="202.00" cy="361.40" r="2.0" fill="#eba936" />
<circle cx="232.90" cy="364.20" r="2.0" fill="#eba936" />
<circle cx="263.30" cy="363.20" r="2.0" fill="#eba936" />
<polyline points="202.00,341.10 232.90,360.80 263.30,357.70" fill="none" stroke="#6cb33f" stroke-width="2.1" stroke-linejoin="round" />
<circle cx="202.00" cy="341.10" r="2.0" fill="#6cb33f" />
<circle cx="232.90" cy="360.80" r="2.0" fill="#6cb33f" />
<circle cx="263.30" cy="357.70" r="2.0" fill="#6cb33f" />
<polyline points="202.00,354.60 232.90,358.80 263.30,355.80" fill="none" stroke="#2b4c8c" stroke-width="2.1" stroke-linejoin="round" />
<circle cx="202.00" cy="354.60" r="2.0" fill="#2b4c8c" />
<circle cx="232.90" cy="358.80" r="2.0" fill="#2b4c8c" />
<circle cx="263.30" cy="355.80" r="2.0" fill="#2b4c8c" />
<polyline points="202.00,308.40 232.90,318.20 263.30,305.80" fill="none" stroke="#a50a2e" stroke-width="2.1" stroke-linejoin="round" />
<circle cx="202.00" cy="308.40" r="2.0" fill="#a50a2e" />
<circle cx="232.90" cy="318.20" r="2.0" fill="#a50a2e" />
<circle cx="263.30" cy="305.80" r="2.0" fill="#a50a2e" />
<text x="212.70" y="307.00" font-size="6.3" font-style="italic" textLength="27.00" lengthAdjust="spacingAndGlyphs" fill="#222" stroke="#222" stroke-width="0.22">DNMT3A*</text>
<text x="206.00" y="337.50" font-size="6.3" font-style="italic" textLength="24.20" lengthAdjust="spacingAndGlyphs" fill="#222" stroke="#222" stroke-width="0.22">C10orf28</text>
<text x="251.70" y="353.70" font-size="6.3" font-style="italic" textLength="12.70" lengthAdjust="spacingAndGlyphs" fill="#222" stroke="#222" stroke-width="0.22">IDH2</text>
<text x="252.50" y="371.70" font-size="6.3" font-style="italic" textLength="17.30" lengthAdjust="spacingAndGlyphs" fill="#222" stroke="#222" stroke-width="0.22">BCOR</text>
<text x="162.60" y="349.20" font-size="10.4" text-anchor="middle" textLength="86.00" lengthAdjust="spacingAndGlyphs" stroke="#1e1e1e" stroke-width="0.22" transform="rotate(-90 162.60 349.20)">VAF in bone marrow</text>
<text x="318.80" y="245.20" font-size="12.8" font-weight="bold" textLength="8.90" lengthAdjust="spacingAndGlyphs" fill="#111" stroke="#111" stroke-width="0.1">D</text>
<text x="427.50" y="244.10" font-size="10.2" text-anchor="middle" font-weight="bold" textLength="166.00" lengthAdjust="spacingAndGlyphs" fill="#111" stroke="#111" stroke-width="0.25">Average change in clonal burden</text>
<text x="427.50" y="256.10" font-size="10.2" text-anchor="middle" font-weight="bold" textLength="106.00" lengthAdjust="spacingAndGlyphs" fill="#111" stroke="#111" stroke-width="0.25">per day of decitabine</text>
<line x1="353.75" y1="274.50" x2="353.75" y2="414.90" stroke="#1e1e1e" stroke-width="1.3" />
<line x1="353.25" y1="414.40" x2="493.50" y2="414.40" stroke="#1e1e1e" stroke-width="1.3" />
<line x1="349.75" y1="278.35" x2="353.75" y2="278.35" stroke="#1e1e1e" stroke-width="1.0" />
<text x="346.70" y="281.35" font-size="8.6" text-anchor="end" stroke="#1e1e1e" stroke-width="0.22">0.5</text>
<line x1="349.75" y1="305.60" x2="353.75" y2="305.60" stroke="#1e1e1e" stroke-width="1.0" />
<text x="346.70" y="308.60" font-size="8.6" text-anchor="end" stroke="#1e1e1e" stroke-width="0.22">0.0</text>
<line x1="349.75" y1="332.85" x2="353.75" y2="332.85" stroke="#1e1e1e" stroke-width="1.0" />
<text x="346.70" y="335.85" font-size="8.6" text-anchor="end" stroke="#1e1e1e" stroke-width="0.22">-0.5</text>
<line x1="349.75" y1="360.10" x2="353.75" y2="360.10" stroke="#1e1e1e" stroke-width="1.0" />
<text x="346.70" y="363.10" font-size="8.6" text-anchor="end" stroke="#1e1e1e" stroke-width="0.22">-1.0</text>
<line x1="349.75" y1="387.35" x2="353.75" y2="387.35" stroke="#1e1e1e" stroke-width="1.0" />
<text x="346.70" y="390.35" font-size="8.6" text-anchor="end" stroke="#1e1e1e" stroke-width="0.22">-1.5</text>
<line x1="349.75" y1="414.60" x2="353.75" y2="414.60" stroke="#1e1e1e" stroke-width="1.0" />
<text x="346.70" y="417.60" font-size="8.6" text-anchor="end" stroke="#1e1e1e" stroke-width="0.22">-2.0</text>
<line x1="353.75" y1="414.40" x2="353.75" y2="418.20" stroke="#1e1e1e" stroke-width="1.0" />
<text x="354.15" y="428.90" font-size="8.6" text-anchor="middle" stroke="#1e1e1e" stroke-width="0.22">-2.0</text>
<line x1="380.85" y1="414.40" x2="380.85" y2="418.20" stroke="#1e1e1e" stroke-width="1.0" />
<text x="381.25" y="428.90" font-size="8.6" text-anchor="middle" stroke="#1e1e1e" stroke-width="0.22">-1.5</text>
<line x1="407.95" y1="414.40" x2="407.95" y2="418.20" stroke="#1e1e1e" stroke-width="1.0" />
<text x="408.35" y="428.90" font-size="8.6" text-anchor="middle" stroke="#1e1e1e" stroke-width="0.22">-1.0</text>
<line x1="435.05" y1="414.40" x2="435.05" y2="418.20" stroke="#1e1e1e" stroke-width="1.0" />
<text x="435.45" y="428.90" font-size="8.6" text-anchor="middle" stroke="#1e1e1e" stroke-width="0.22">-0.5</text>
<line x1="462.15" y1="414.40" x2="462.15" y2="418.20" stroke="#1e1e1e" stroke-width="1.0" />
<text x="462.55" y="428.90" font-size="8.6" text-anchor="middle" stroke="#1e1e1e" stroke-width="0.22">0.0</text>
<line x1="489.25" y1="414.40" x2="489.25" y2="418.20" stroke="#1e1e1e" stroke-width="1.0" />
<text x="489.65" y="428.90" font-size="8.6" text-anchor="middle" stroke="#1e1e1e" stroke-width="0.22">0.5</text>
<text x="325.60" y="346.40" font-size="10.4" text-anchor="middle" textLength="113.50" lengthAdjust="spacingAndGlyphs" stroke="#1e1e1e" stroke-width="0.22" transform="rotate(-90 325.60 346.40)">Rate of PB VAF change/day</text>
<text x="423.80" y="444.30" font-size="10.4" text-anchor="middle" textLength="115.50" lengthAdjust="spacingAndGlyphs" stroke="#1e1e1e" stroke-width="0.22">Rate of BM VAF change/day</text>
<line x1="382.50" y1="364.00" x2="480.40" y2="290.60" stroke="#900c30" stroke-width="2.1" />
<circle cx="470.90" cy="287.80" r="1.55" fill="#880a2c" />
<circle cx="480.80" cy="287.00" r="1.55" fill="#880a2c" />
<circle cx="464.50" cy="293.30" r="1.55" fill="#880a2c" />
<circle cx="444.40" cy="296.90" r="1.55" fill="#880a2c" />
<circle cx="447.60" cy="297.30" r="1.55" fill="#880a2c" />
<circle cx="450.80" cy="301.60" r="1.55" fill="#880a2c" />
<circle cx="451.80" cy="306.40" r="1.55" fill="#880a2c" />
<circle cx="455.40" cy="308.10" r="1.55" fill="#880a2c" />
<circle cx="466.60" cy="309.60" r="1.55" fill="#880a2c" />
<circle cx="445.10" cy="311.30" r="1.55" fill="#880a2c" />
<circle cx="430.00" cy="313.80" r="1.55" fill="#880a2c" />
<circle cx="440.60" cy="318.10" r="1.55" fill="#880a2c" />
<circle cx="446.10" cy="318.70" r="1.55" fill="#880a2c" />
<circle cx="450.10" cy="317.70" r="1.55" fill="#880a2c" />
<circle cx="441.70" cy="324.40" r="1.55" fill="#880a2c" />
<circle cx="442.30" cy="328.20" r="1.55" fill="#880a2c" />
<circle cx="429.60" cy="330.80" r="1.55" fill="#880a2c" />
<circle cx="440.80" cy="333.30" r="1.55" fill="#880a2c" />
<circle cx="464.50" cy="328.70" r="1.55" fill="#880a2c" />
<circle cx="430.70" cy="339.90" r="1.55" fill="#880a2c" />
<circle cx="431.70" cy="341.80" r="1.55" fill="#880a2c" />
<circle cx="428.60" cy="351.50" r="1.55" fill="#880a2c" />
<circle cx="382.50" cy="371.25" r="1.55" fill="#880a2c" />
<circle cx="391.75" cy="342.50" r="1.55" fill="#880a2c" />
<circle cx="400.00" cy="344.25" r="1.55" fill="#880a2c" />
<circle cx="429.50" cy="331.25" r="1.55" fill="#880a2c" />
<circle cx="428.75" cy="351.75" r="1.55" fill="#880a2c" />
<path d="M380.5,292.5 L384.4,293.2 L389.2,294.6 L397.9,298.6 L402.2,302.4 L404.8,305.6 L396,300.8 L384,294.2 Z" fill="#8cc457"/>
<polyline points="380.60,292.60 384.40,293.30 389.20,294.70 397.90,298.70 404.60,305.40" fill="none" stroke="#6eae3e" stroke-width="1.0" stroke-linejoin="round" />
<polyline points="380.60,275.40 385.10,274.00 398.60,286.00 407.50,304.40" fill="none" stroke="#9b1434" stroke-width="1.3" stroke-linejoin="round" />
<polyline points="380.60,282.70 385.50,281.50 389.80,282.70 396.50,287.00 406.50,306.80" fill="none" stroke="#9b1434" stroke-width="1.3" stroke-linejoin="round" />
<polyline points="380.60,304.40 385.40,308.30 395.00,312.00 407.50,314.00" fill="none" stroke="#2e4f86" stroke-width="1.1" stroke-linejoin="round" />
<polyline points="380.60,312.50 388.00,308.50 395.00,308.00 402.00,310.00 407.00,313.00" fill="none" stroke="#2e4f86" stroke-width="1.1" stroke-linejoin="round" />
<polyline points="380.60,314.00 395.00,314.50 407.50,314.20" fill="none" stroke="#2e4f86" stroke-width="1.1" stroke-linejoin="round" />
<polyline points="381.00,310.50 390.00,312.00 400.00,313.00 407.00,314.00" fill="none" stroke="#2e4f86" stroke-width="1.1" stroke-linejoin="round" />
<line x1="375.50" y1="262.30" x2="375.50" y2="314.60" stroke="#111" stroke-width="1.0" />
<line x1="373.70" y1="314.00" x2="375.50" y2="314.00" stroke="#1e1e1e" stroke-width="0.7" />
<text x="373.20" y="315.60" font-size="4.6" text-anchor="end" fill="#444" stroke="#444" stroke-width="0.1">0</text>
<line x1="373.70" y1="304.16" x2="375.50" y2="304.16" stroke="#1e1e1e" stroke-width="0.7" />
<text x="373.20" y="305.76" font-size="4.6" text-anchor="end" fill="#444" stroke="#444" stroke-width="0.1">20</text>
<line x1="373.70" y1="294.32" x2="375.50" y2="294.32" stroke="#1e1e1e" stroke-width="0.7" />
<text x="373.20" y="295.92" font-size="4.6" text-anchor="end" fill="#444" stroke="#444" stroke-width="0.1">40</text>
<line x1="373.70" y1="284.48" x2="375.50" y2="284.48" stroke="#1e1e1e" stroke-width="0.7" />
<text x="373.20" y="286.08" font-size="4.6" text-anchor="end" fill="#444" stroke="#444" stroke-width="0.1">60</text>
<line x1="373.70" y1="274.64" x2="375.50" y2="274.64" stroke="#1e1e1e" stroke-width="0.7" />
<text x="373.20" y="276.24" font-size="4.6" text-anchor="end" fill="#444" stroke="#444" stroke-width="0.1">80</text>
<line x1="373.70" y1="264.80" x2="375.50" y2="264.80" stroke="#1e1e1e" stroke-width="0.7" />
<text x="373.20" y="266.40" font-size="4.6" text-anchor="end" fill="#444" stroke="#444" stroke-width="0.1">100</text>
<line x1="380.60" y1="319.80" x2="414.70" y2="319.80" stroke="#111" stroke-width="1.1" />
<line x1="381.00" y1="319.80" x2="381.00" y2="321.80" stroke="#1e1e1e" stroke-width="0.7" />
<text x="382.60" y="323.80" font-size="4.5" text-anchor="end" fill="#444" stroke="#444" stroke-width="0.1" transform="rotate(-60 382.60 323.80)">0</text>
<line x1="388.80" y1="319.80" x2="388.80" y2="321.80" stroke="#1e1e1e" stroke-width="0.7" />
<text x="390.40" y="323.80" font-size="4.5" text-anchor="end" fill="#444" stroke="#444" stroke-width="0.1" transform="rotate(-60 390.40 323.80)">20</text>
<line x1="396.40" y1="319.80" x2="396.40" y2="321.80" stroke="#1e1e1e" stroke-width="0.7" />
<text x="398.00" y="323.80" font-size="4.5" text-anchor="end" fill="#444" stroke="#444" stroke-width="0.1" transform="rotate(-60 398.00 323.80)">40</text>
<line x1="404.10" y1="319.80" x2="404.10" y2="321.80" stroke="#1e1e1e" stroke-width="0.7" />
<text x="405.70" y="323.80" font-size="4.5" text-anchor="end" fill="#444" stroke="#444" stroke-width="0.1" transform="rotate(-60 405.70 323.80)">60</text>
<line x1="411.80" y1="319.80" x2="411.80" y2="321.80" stroke="#1e1e1e" stroke-width="0.7" />
<text x="413.40" y="323.80" font-size="4.5" text-anchor="end" fill="#444" stroke="#444" stroke-width="0.1" transform="rotate(-60 413.40 323.80)">80</text>
<text x="397.90" y="336.00" font-size="5.6" text-anchor="middle" textLength="11.60" lengthAdjust="spacingAndGlyphs" fill="#444" stroke="#444" stroke-width="0.22">Days</text>
<text x="403.60" y="272.60" font-size="5.0" text-anchor="middle" font-weight="bold" textLength="10.30" lengthAdjust="spacingAndGlyphs" fill="#222" stroke="#222" stroke-width="0.25">1028</text>
<text x="361.90" y="290.00" font-size="5.2" text-anchor="middle" textLength="53.00" lengthAdjust="spacingAndGlyphs" fill="#444" stroke="#444" stroke-width="0.1" transform="rotate(-90 361.90 290.00)">VAF in peripheral blood</text>
<line x1="370.20" y1="288.10" x2="414.40" y2="312.60" stroke="#000" stroke-width="2.0" />
<text x="412.20" y="300.50" font-size="8.4" textLength="16.60" lengthAdjust="spacingAndGlyphs" fill="#222" stroke="#222" stroke-width="0.22">slope</text>
<path d="M418.6,302.4 Q413.5,303 411.8,306.2" fill="none" stroke="#111" stroke-width="1.3"/>
<path d="M410.2,308.3 L410.9,304.5 L413.9,306.4 Z" fill="#111"/>
<text x="8.50" y="475.00" font-size="13.4" font-weight="bold" textLength="8.30" lengthAdjust="spacingAndGlyphs" fill="#111">E</text>
<text x="116.40" y="480.40" font-size="10.2" text-anchor="middle" font-weight="bold" textLength="63.50" lengthAdjust="spacingAndGlyphs" fill="#111" stroke="#111" stroke-width="0.25">Blast counts</text>
<circle cx="52.90" cy="612.69" r="1.45" fill="#e8c0c4" stroke="#9a0e34" stroke-width="1.1"/>
<circle cx="55.23" cy="615.09" r="1.5" fill="#860a2c" />
<circle cx="56.52" cy="615.02" r="1.5" fill="#860a2c" />
<circle cx="56.94" cy="615.39" r="1.45" fill="#e8c0c4" stroke="#9a0e34" stroke-width="1.1"/>
<circle cx="59.97" cy="614.48" r="1.5" fill="#860a2c" />
<circle cx="52.72" cy="618.43" r="1.5" fill="#860a2c" />
<circle cx="50.18" cy="623.74" r="1.45" fill="#e8c0c4" stroke="#9a0e34" stroke-width="1.1"/>
<circle cx="68.95" cy="611.67" r="1.5" fill="#860a2c" />
<circle cx="58.99" cy="613.81" r="1.45" fill="#e8c0c4" stroke="#9a0e34" stroke-width="1.1"/>
<circle cx="52.55" cy="624.04" r="1.5" fill="#860a2c" />
<circle cx="48.85" cy="623.31" r="1.5" fill="#860a2c" />
<circle cx="51.23" cy="621.08" r="1.45" fill="#e8c0c4" stroke="#9a0e34" stroke-width="1.1"/>
<circle cx="56.95" cy="617.31" r="1.5" fill="#860a2c" />
<circle cx="57.16" cy="618.52" r="1.5" fill="#860a2c" />
<circle cx="58.35" cy="612.02" r="1.45" fill="#e8c0c4" stroke="#9a0e34" stroke-width="1.1"/>
<circle cx="56.31" cy="615.08" r="1.5" fill="#860a2c" />
<circle cx="51.40" cy="617.77" r="1.5" fill="#860a2c" />
<circle cx="70.05" cy="612.43" r="1.45" fill="#e8c0c4" stroke="#9a0e34" stroke-width="1.1"/>
<circle cx="61.22" cy="612.92" r="1.5" fill="#860a2c" />
<circle cx="53.82" cy="619.33" r="1.5" fill="#860a2c" />
<circle cx="50.19" cy="624.58" r="1.45" fill="#e8c0c4" stroke="#9a0e34" stroke-width="1.1"/>
<circle cx="59.90" cy="608.93" r="1.5" fill="#860a2c" />
<circle cx="56.87" cy="620.32" r="1.5" fill="#860a2c" />
<circle cx="66.21" cy="609.19" r="1.45" fill="#e8c0c4" stroke="#9a0e34" stroke-width="1.1"/>
<circle cx="51.55" cy="620.69" r="1.5" fill="#860a2c" />
<circle cx="60.79" cy="604.29" r="1.5" fill="#860a2c" />
<circle cx="56.10" cy="618.91" r="1.45" fill="#e8c0c4" stroke="#9a0e34" stroke-width="1.1"/>
<circle cx="50.72" cy="617.25" r="1.5" fill="#860a2c" />
<circle cx="65.91" cy="616.81" r="1.5" fill="#860a2c" />
<circle cx="49.82" cy="622.19" r="1.5" fill="#860a2c" />
<circle cx="49.41" cy="624.01" r="1.45" fill="#e8c0c4" stroke="#9a0e34" stroke-width="1.1"/>
<circle cx="63.95" cy="612.79" r="1.5" fill="#860a2c" />
<circle cx="58.09" cy="619.41" r="1.5" fill="#860a2c" />
<circle cx="51.12" cy="620.92" r="1.45" fill="#e8c0c4" stroke="#9a0e34" stroke-width="1.1"/>
<circle cx="59.20" cy="612.95" r="1.5" fill="#860a2c" />
<circle cx="48.79" cy="620.96" r="1.5" fill="#860a2c" />
<circle cx="53.30" cy="620.49" r="1.45" fill="#e8c0c4" stroke="#9a0e34" stroke-width="1.1"/>
<circle cx="66.89" cy="609.52" r="1.5" fill="#860a2c" />
<circle cx="63.45" cy="608.65" r="1.5" fill="#860a2c" />
<circle cx="49.11" cy="617.59" r="1.45" fill="#e8c0c4" stroke="#9a0e34" stroke-width="1.1"/>
<circle cx="61.97" cy="616.51" r="1.5" fill="#860a2c" />
<circle cx="50.57" cy="623.85" r="1.5" fill="#860a2c" />
<circle cx="52.46" cy="619.90" r="1.45" fill="#e8c0c4" stroke="#9a0e34" stroke-width="1.1"/>
<circle cx="61.92" cy="611.21" r="1.5" fill="#860a2c" />
<circle cx="50.12" cy="624.36" r="1.5" fill="#860a2c" />
<circle cx="48.21" cy="621.29" r="1.45" fill="#e8c0c4" stroke="#9a0e34" stroke-width="1.1"/>
<circle cx="58.63" cy="613.93" r="1.5" fill="#860a2c" />
<circle cx="50.83" cy="613.31" r="1.5" fill="#860a2c" />
<circle cx="58.12" cy="617.99" r="1.45" fill="#e8c0c4" stroke="#9a0e34" stroke-width="1.1"/>
<circle cx="59.39" cy="615.96" r="1.5" fill="#860a2c" />
<circle cx="49.74" cy="620.65" r="1.5" fill="#860a2c" />
<circle cx="65.72" cy="610.56" r="1.45" fill="#e8c0c4" stroke="#9a0e34" stroke-width="1.1"/>
<circle cx="50.08" cy="619.65" r="1.5" fill="#860a2c" />
<circle cx="62.92" cy="613.79" r="1.5" fill="#860a2c" />
<circle cx="65.64" cy="608.78" r="1.45" fill="#e8c0c4" stroke="#9a0e34" stroke-width="1.1"/>
<circle cx="63.36" cy="608.63" r="1.5" fill="#860a2c" />
<circle cx="48.50" cy="621.10" r="1.5" fill="#860a2c" />
<circle cx="49.42" cy="624.86" r="1.45" fill="#e8c0c4" stroke="#9a0e34" stroke-width="1.1"/>
<circle cx="60.96" cy="612.73" r="1.5" fill="#860a2c" />
<circle cx="53.48" cy="621.24" r="1.5" fill="#860a2c" />
<circle cx="51.27" cy="617.00" r="1.45" fill="#e8c0c4" stroke="#9a0e34" stroke-width="1.1"/>
<circle cx="50.81" cy="621.14" r="1.5" fill="#860a2c" />
<circle cx="51.35" cy="619.70" r="1.5" fill="#860a2c" />
<circle cx="59.75" cy="617.02" r="1.45" fill="#e8c0c4" stroke="#9a0e34" stroke-width="1.1"/>
<circle cx="51.18" cy="617.41" r="1.5" fill="#860a2c" />
<circle cx="65.47" cy="609.89" r="1.5" fill="#860a2c" />
<circle cx="53.03" cy="620.18" r="1.45" fill="#e8c0c4" stroke="#9a0e34" stroke-width="1.1"/>
<circle cx="57.13" cy="618.27" r="1.5" fill="#860a2c" />
<circle cx="55.06" cy="618.75" r="1.5" fill="#860a2c" />
<circle cx="59.70" cy="616.44" r="1.45" fill="#e8c0c4" stroke="#9a0e34" stroke-width="1.1"/>
<circle cx="66.00" cy="611.61" r="1.5" fill="#860a2c" />
<circle cx="65.25" cy="607.08" r="1.5" fill="#860a2c" />
<circle cx="56.83" cy="612.34" r="1.45" fill="#e8c0c4" stroke="#9a0e34" stroke-width="1.1"/>
<circle cx="50.54" cy="622.20" r="1.5" fill="#860a2c" />
<circle cx="65.32" cy="609.98" r="1.5" fill="#860a2c" />
<circle cx="61.50" cy="613.55" r="1.45" fill="#e8c0c4" stroke="#9a0e34" stroke-width="1.1"/>
<circle cx="59.83" cy="614.04" r="1.5" fill="#860a2c" />
<circle cx="57.10" cy="609.56" r="1.5" fill="#860a2c" />
<circle cx="62.64" cy="601.66" r="1.45" fill="#e8c0c4" stroke="#9a0e34" stroke-width="1.1"/>
<circle cx="49.54" cy="612.58" r="1.5" fill="#860a2c" />
<circle cx="61.98" cy="603.57" r="1.5" fill="#860a2c" />
<circle cx="59.79" cy="605.63" r="1.45" fill="#e8c0c4" stroke="#9a0e34" stroke-width="1.1"/>
<circle cx="60.25" cy="601.46" r="1.5" fill="#860a2c" />
<circle cx="54.25" cy="610.10" r="1.5" fill="#860a2c" />
<circle cx="59.25" cy="601.61" r="1.45" fill="#e8c0c4" stroke="#9a0e34" stroke-width="1.1"/>
<circle cx="57.21" cy="611.36" r="1.5" fill="#860a2c" />
<circle cx="55.44" cy="605.55" r="1.5" fill="#860a2c" />
<circle cx="57.60" cy="606.36" r="1.45" fill="#e8c0c4" stroke="#9a0e34" stroke-width="1.1"/>
<circle cx="60.30" cy="609.47" r="1.5" fill="#860a2c" />
<circle cx="48.89" cy="611.80" r="1.5" fill="#860a2c" />
<circle cx="58.66" cy="600.78" r="1.45" fill="#e8c0c4" stroke="#9a0e34" stroke-width="1.1"/>
<circle cx="58.53" cy="604.60" r="1.5" fill="#860a2c" />
<circle cx="60.19" cy="610.08" r="1.5" fill="#860a2c" />
<circle cx="57.07" cy="610.62" r="1.45" fill="#e8c0c4" stroke="#9a0e34" stroke-width="1.1"/>
<circle cx="60.20" cy="605.69" r="1.5" fill="#860a2c" />
<circle cx="49.95" cy="614.18" r="1.5" fill="#860a2c" />
<circle cx="52.93" cy="611.95" r="1.45" fill="#e8c0c4" stroke="#9a0e34" stroke-width="1.1"/>
<circle cx="57.93" cy="604.77" r="1.5" fill="#860a2c" />
<circle cx="63.00" cy="604.07" r="1.5" fill="#860a2c" />
<circle cx="59.72" cy="620.63" r="1.45" fill="#e8c0c4" stroke="#9a0e34" stroke-width="1.1"/>
<circle cx="63.52" cy="616.35" r="1.5" fill="#860a2c" />
<circle cx="59.36" cy="621.36" r="1.5" fill="#860a2c" />
<circle cx="65.30" cy="619.59" r="1.45" fill="#e8c0c4" stroke="#9a0e34" stroke-width="1.1"/>
<circle cx="61.60" cy="619.07" r="1.5" fill="#860a2c" />
<circle cx="62.72" cy="615.39" r="1.5" fill="#860a2c" />
<circle cx="56.42" cy="616.84" r="1.45" fill="#e8c0c4" stroke="#9a0e34" stroke-width="1.1"/>
<circle cx="66.87" cy="615.89" r="1.5" fill="#860a2c" />
<circle cx="64.62" cy="613.17" r="1.5" fill="#860a2c" />
<circle cx="60.42" cy="620.27" r="1.45" fill="#e8c0c4" stroke="#9a0e34" stroke-width="1.1"/>
<circle cx="55.45" cy="616.83" r="1.5" fill="#860a2c" />
<circle cx="65.38" cy="615.13" r="1.5" fill="#860a2c" />
<circle cx="64.65" cy="617.31" r="1.45" fill="#e8c0c4" stroke="#9a0e34" stroke-width="1.1"/>
<circle cx="57.59" cy="619.40" r="1.5" fill="#860a2c" />
<circle cx="60.84" cy="617.66" r="1.5" fill="#860a2c" />
<circle cx="61.29" cy="619.26" r="1.45" fill="#e8c0c4" stroke="#9a0e34" stroke-width="1.1"/>
<circle cx="61.95" cy="615.15" r="1.5" fill="#860a2c" />
<circle cx="65.27" cy="615.18" r="1.5" fill="#860a2c" />
<circle cx="66.40" cy="613.49" r="1.45" fill="#e8c0c4" stroke="#9a0e34" stroke-width="1.1"/>
<circle cx="56.47" cy="620.98" r="1.5" fill="#860a2c" />
<circle cx="67.23" cy="617.45" r="1.5" fill="#860a2c" />
<circle cx="62.71" cy="617.69" r="1.45" fill="#e8c0c4" stroke="#9a0e34" stroke-width="1.1"/>
<line x1="46.50" y1="624.50" x2="175.40" y2="523.40" stroke="#dca297" stroke-width="3.1" />
<circle cx="65.30" cy="534.50" r="1.5" fill="#860a2c" />
<circle cx="103.20" cy="550.60" r="1.5" fill="#860a2c" />
<circle cx="164.80" cy="501.80" r="1.5" fill="#860a2c" />
<circle cx="143.10" cy="505.80" r="1.5" fill="#860a2c" />
<circle cx="155.40" cy="511.60" r="1.5" fill="#860a2c" />
<circle cx="175.60" cy="512.50" r="1.5" fill="#860a2c" />
<circle cx="161.90" cy="516.40" r="1.5" fill="#860a2c" />
<circle cx="159.20" cy="523.60" r="1.5" fill="#860a2c" />
<circle cx="136.20" cy="527.50" r="1.5" fill="#860a2c" />
<circle cx="146.20" cy="536.00" r="1.5" fill="#860a2c" />
<circle cx="149.70" cy="534.90" r="1.5" fill="#860a2c" />
<circle cx="158.90" cy="534.00" r="1.5" fill="#860a2c" />
<circle cx="135.10" cy="541.40" r="1.5" fill="#860a2c" />
<circle cx="143.10" cy="545.20" r="1.5" fill="#860a2c" />
<circle cx="146.20" cy="548.30" r="1.5" fill="#860a2c" />
<circle cx="119.50" cy="548.30" r="1.5" fill="#860a2c" />
<circle cx="166.20" cy="546.80" r="1.5" fill="#860a2c" />
<circle cx="166.20" cy="550.60" r="1.5" fill="#860a2c" />
<circle cx="101.90" cy="574.50" r="1.5" fill="#860a2c" />
<circle cx="103.20" cy="575.90" r="1.5" fill="#860a2c" />
<circle cx="109.30" cy="572.20" r="1.5" fill="#860a2c" />
<circle cx="96.50" cy="583.30" r="1.5" fill="#860a2c" />
<circle cx="79.70" cy="589.70" r="1.5" fill="#860a2c" />
<circle cx="82.40" cy="592.00" r="1.5" fill="#860a2c" />
<circle cx="83.00" cy="594.00" r="1.5" fill="#860a2c" />
<circle cx="90.40" cy="592.00" r="1.5" fill="#860a2c" />
<circle cx="98.10" cy="590.30" r="1.5" fill="#860a2c" />
<circle cx="103.50" cy="594.40" r="1.5" fill="#860a2c" />
<circle cx="75.60" cy="598.10" r="1.5" fill="#860a2c" />
<circle cx="66.90" cy="600.10" r="1.5" fill="#860a2c" />
<circle cx="67.60" cy="602.10" r="1.5" fill="#860a2c" />
<circle cx="60.20" cy="601.40" r="1.5" fill="#860a2c" />
<circle cx="72.90" cy="602.80" r="1.5" fill="#860a2c" />
<circle cx="73.60" cy="608.20" r="1.5" fill="#860a2c" />
<circle cx="68.20" cy="613.50" r="1.5" fill="#860a2c" />
<circle cx="81.70" cy="623.00" r="1.5" fill="#860a2c" />
<circle cx="132.80" cy="562.00" r="1.5" fill="#860a2c" />
<circle cx="133.10" cy="563.50" r="1.5" fill="#860a2c" />
<circle cx="126.60" cy="565.70" r="1.5" fill="#860a2c" />
<circle cx="128.20" cy="571.20" r="1.5" fill="#860a2c" />
<circle cx="116.90" cy="572.80" r="1.5" fill="#860a2c" />
<circle cx="118.50" cy="574.60" r="1.5" fill="#860a2c" />
<circle cx="119.20" cy="576.90" r="1.5" fill="#860a2c" />
<circle cx="120.80" cy="579.20" r="1.5" fill="#860a2c" />
<circle cx="121.50" cy="580.80" r="1.5" fill="#860a2c" />
<circle cx="155.40" cy="586.50" r="1.5" fill="#860a2c" />
<circle cx="122.60" cy="586.60" r="1.5" fill="#860a2c" />
<circle cx="118.50" cy="593.40" r="1.5" fill="#860a2c" />
<circle cx="110.00" cy="595.80" r="1.5" fill="#860a2c" />
<circle cx="175.80" cy="624.60" r="1.5" fill="#860a2c" />
<circle cx="65.30" cy="552.20" r="1.45" fill="#fff" stroke="#9a0e34" stroke-width="1.1"/>
<circle cx="103.20" cy="548.20" r="1.45" fill="#fff" stroke="#9a0e34" stroke-width="1.1"/>
<circle cx="164.80" cy="504.50" r="1.45" fill="#fff" stroke="#9a0e34" stroke-width="1.1"/>
<circle cx="143.10" cy="510.10" r="1.45" fill="#fff" stroke="#9a0e34" stroke-width="1.1"/>
<circle cx="175.60" cy="518.30" r="1.45" fill="#fff" stroke="#9a0e34" stroke-width="1.1"/>
<circle cx="143.10" cy="518.30" r="1.45" fill="#fff" stroke="#9a0e34" stroke-width="1.1"/>
<circle cx="155.40" cy="518.30" r="1.45" fill="#fff" stroke="#9a0e34" stroke-width="1.1"/>
<circle cx="162.00" cy="518.00" r="1.45" fill="#fff" stroke="#9a0e34" stroke-width="1.1"/>
<circle cx="166.20" cy="527.20" r="1.45" fill="#fff" stroke="#9a0e34" stroke-width="1.1"/>
<circle cx="136.20" cy="533.20" r="1.45" fill="#fff" stroke="#9a0e34" stroke-width="1.1"/>
<circle cx="126.60" cy="533.20" r="1.45" fill="#fff" stroke="#9a0e34" stroke-width="1.1"/>
<circle cx="148.20" cy="539.80" r="1.45" fill="#fff" stroke="#9a0e34" stroke-width="1.1"/>
<circle cx="166.20" cy="537.20" r="1.45" fill="#fff" stroke="#9a0e34" stroke-width="1.1"/>
<circle cx="135.10" cy="548.30" r="1.45" fill="#fff" stroke="#9a0e34" stroke-width="1.1"/>
<circle cx="119.50" cy="553.70" r="1.45" fill="#fff" stroke="#9a0e34" stroke-width="1.1"/>
<circle cx="149.70" cy="553.40" r="1.45" fill="#fff" stroke="#9a0e34" stroke-width="1.1"/>
<circle cx="102.10" cy="560.40" r="1.45" fill="#fff" stroke="#9a0e34" stroke-width="1.1"/>
<circle cx="103.20" cy="565.80" r="1.45" fill="#fff" stroke="#9a0e34" stroke-width="1.1"/>
<circle cx="102.10" cy="570.10" r="1.45" fill="#fff" stroke="#9a0e34" stroke-width="1.1"/>
<circle cx="96.80" cy="578.10" r="1.45" fill="#fff" stroke="#9a0e34" stroke-width="1.1"/>
<circle cx="76.30" cy="580.30" r="1.45" fill="#fff" stroke="#9a0e34" stroke-width="1.1"/>
<circle cx="79.30" cy="583.50" r="1.45" fill="#fff" stroke="#9a0e34" stroke-width="1.1"/>
<circle cx="75.00" cy="586.60" r="1.45" fill="#fff" stroke="#9a0e34" stroke-width="1.1"/>
<circle cx="75.20" cy="589.30" r="1.45" fill="#fff" stroke="#9a0e34" stroke-width="1.1"/>
<circle cx="109.00" cy="595.60" r="1.45" fill="#fff" stroke="#9a0e34" stroke-width="1.1"/>
<circle cx="90.00" cy="597.40" r="1.45" fill="#fff" stroke="#9a0e34" stroke-width="1.1"/>
<circle cx="68.20" cy="597.40" r="1.45" fill="#fff" stroke="#9a0e34" stroke-width="1.1"/>
<circle cx="80.30" cy="605.50" r="1.45" fill="#fff" stroke="#9a0e34" stroke-width="1.1"/>
<circle cx="83.00" cy="604.10" r="1.45" fill="#fff" stroke="#9a0e34" stroke-width="1.1"/>
<circle cx="98.10" cy="602.40" r="1.45" fill="#fff" stroke="#9a0e34" stroke-width="1.1"/>
<circle cx="103.50" cy="605.50" r="1.45" fill="#fff" stroke="#9a0e34" stroke-width="1.1"/>
<circle cx="73.60" cy="616.20" r="1.45" fill="#fff" stroke="#9a0e34" stroke-width="1.1"/>
<circle cx="76.30" cy="614.90" r="1.45" fill="#fff" stroke="#9a0e34" stroke-width="1.1"/>
<circle cx="81.70" cy="620.30" r="1.45" fill="#fff" stroke="#9a0e34" stroke-width="1.1"/>
<circle cx="120.00" cy="553.40" r="1.45" fill="#fff" stroke="#9a0e34" stroke-width="1.1"/>
<circle cx="120.00" cy="556.20" r="1.45" fill="#fff" stroke="#9a0e34" stroke-width="1.1"/>
<circle cx="158.00" cy="561.50" r="1.45" fill="#fff" stroke="#9a0e34" stroke-width="1.1"/>
<circle cx="132.00" cy="565.80" r="1.45" fill="#fff" stroke="#9a0e34" stroke-width="1.1"/>
<circle cx="118.50" cy="575.40" r="1.45" fill="#fff" stroke="#9a0e34" stroke-width="1.1"/>
<circle cx="118.50" cy="583.10" r="1.45" fill="#fff" stroke="#9a0e34" stroke-width="1.1"/>
<circle cx="133.40" cy="583.50" r="1.45" fill="#fff" stroke="#9a0e34" stroke-width="1.1"/>
<circle cx="155.40" cy="582.00" r="1.45" fill="#fff" stroke="#9a0e34" stroke-width="1.1"/>
<circle cx="116.20" cy="590.30" r="1.45" fill="#fff" stroke="#9a0e34" stroke-width="1.1"/>
<circle cx="118.50" cy="589.20" r="1.45" fill="#fff" stroke="#9a0e34" stroke-width="1.1"/>
<circle cx="122.60" cy="591.50" r="1.45" fill="#fff" stroke="#9a0e34" stroke-width="1.1"/>
<circle cx="128.20" cy="589.20" r="1.45" fill="#fff" stroke="#9a0e34" stroke-width="1.1"/>
<line x1="46.10" y1="486.70" x2="46.10" y2="626.00" stroke="#1e1e1e" stroke-width="1.3" />
<line x1="45.60" y1="625.50" x2="185.20" y2="625.50" stroke="#1e1e1e" stroke-width="1.3" />
<line x1="42.70" y1="625.50" x2="46.10" y2="625.50" stroke="#1e1e1e" stroke-width="1.0" />
<text x="39.70" y="628.50" font-size="8.4" text-anchor="end" stroke="#1e1e1e" stroke-width="0.22">0</text>
<line x1="46.10" y1="625.50" x2="46.10" y2="628.90" stroke="#1e1e1e" stroke-width="1.0" />
<text x="46.10" y="640.40" font-size="8.6" text-anchor="middle" stroke="#1e1e1e" stroke-width="0.22">0</text>
<line x1="42.70" y1="598.48" x2="46.10" y2="598.48" stroke="#1e1e1e" stroke-width="1.0" />
<text x="39.70" y="601.48" font-size="8.4" text-anchor="end" stroke="#1e1e1e" stroke-width="0.22">20</text>
<line x1="73.30" y1="625.50" x2="73.30" y2="628.90" stroke="#1e1e1e" stroke-width="1.0" />
<text x="73.30" y="640.40" font-size="8.6" text-anchor="middle" stroke="#1e1e1e" stroke-width="0.22">20</text>
<line x1="42.70" y1="571.46" x2="46.10" y2="571.46" stroke="#1e1e1e" stroke-width="1.0" />
<text x="39.70" y="574.46" font-size="8.4" text-anchor="end" stroke="#1e1e1e" stroke-width="0.22">40</text>
<line x1="100.50" y1="625.50" x2="100.50" y2="628.90" stroke="#1e1e1e" stroke-width="1.0" />
<text x="100.50" y="640.40" font-size="8.6" text-anchor="middle" stroke="#1e1e1e" stroke-width="0.22">40</text>
<line x1="42.70" y1="544.44" x2="46.10" y2="544.44" stroke="#1e1e1e" stroke-width="1.0" />
<text x="39.70" y="547.44" font-size="8.4" text-anchor="end" stroke="#1e1e1e" stroke-width="0.22">60</text>
<line x1="127.70" y1="625.50" x2="127.70" y2="628.90" stroke="#1e1e1e" stroke-width="1.0" />
<text x="127.70" y="640.40" font-size="8.6" text-anchor="middle" stroke="#1e1e1e" stroke-width="0.22">60</text>
<line x1="42.70" y1="517.42" x2="46.10" y2="517.42" stroke="#1e1e1e" stroke-width="1.0" />
<text x="39.70" y="520.42" font-size="8.4" text-anchor="end" stroke="#1e1e1e" stroke-width="0.22">80</text>
<line x1="154.90" y1="625.50" x2="154.90" y2="628.90" stroke="#1e1e1e" stroke-width="1.0" />
<text x="154.90" y="640.40" font-size="8.6" text-anchor="middle" stroke="#1e1e1e" stroke-width="0.22">80</text>
<line x1="42.70" y1="490.40" x2="46.10" y2="490.40" stroke="#1e1e1e" stroke-width="1.0" />
<text x="39.70" y="493.40" font-size="8.4" text-anchor="end" stroke="#1e1e1e" stroke-width="0.22">100</text>
<line x1="182.10" y1="625.50" x2="182.10" y2="628.90" stroke="#1e1e1e" stroke-width="1.0" />
<text x="182.10" y="640.40" font-size="8.6" text-anchor="middle" stroke="#1e1e1e" stroke-width="0.22">100</text>
<text x="19.60" y="556.10" font-size="10.4" text-anchor="middle" textLength="119.50" lengthAdjust="spacingAndGlyphs" stroke="#1e1e1e" stroke-width="0.22" transform="rotate(-90 19.60 556.10)">BM blasts pathologist 2 or 3</text>
<text x="116.00" y="656.00" font-size="10.4" text-anchor="middle" textLength="98.80" lengthAdjust="spacingAndGlyphs" stroke="#1e1e1e" stroke-width="0.22">BM blasts pathologist 1</text>
<line x1="166.70" y1="595.00" x2="180.40" y2="595.00" stroke="#dca297" stroke-width="2.6" />
<circle cx="173.50" cy="595.00" r="1.35" fill="#7e0826" />
<text x="182.70" y="597.90" font-size="7.9" textLength="48.00" lengthAdjust="spacingAndGlyphs" fill="#333" stroke="#333" stroke-width="0.22">Pathologist 2</text>
<line x1="166.70" y1="612.30" x2="180.40" y2="612.30" stroke="#dca297" stroke-width="2.6" />
<circle cx="173.5" cy="612.3" r="1.3" fill="white" stroke="#8e0a2c" stroke-width="1.0"/>
<text x="182.70" y="615.20" font-size="7.9" textLength="48.00" lengthAdjust="spacingAndGlyphs" fill="#333" stroke="#333" stroke-width="0.22">Pathologist 3</text>
<text x="318.60" y="474.90" font-size="13.4" font-weight="bold" textLength="8.00" lengthAdjust="spacingAndGlyphs" fill="#111">F</text>
<line x1="353.60" y1="487.00" x2="353.60" y2="626.60" stroke="#1e1e1e" stroke-width="1.3" />
<line x1="353.10" y1="626.10" x2="490.00" y2="626.10" stroke="#1e1e1e" stroke-width="1.3" />
<line x1="349.60" y1="490.20" x2="353.60" y2="490.20" stroke="#1e1e1e" stroke-width="1.0" />
<text x="346.90" y="493.40" font-size="9.2" text-anchor="end" stroke="#1e1e1e" stroke-width="0.22">1.5</text>
<line x1="349.60" y1="535.50" x2="353.60" y2="535.50" stroke="#1e1e1e" stroke-width="1.0" />
<text x="346.90" y="538.70" font-size="9.2" text-anchor="end" stroke="#1e1e1e" stroke-width="0.22">1.0</text>
<line x1="349.60" y1="580.80" x2="353.60" y2="580.80" stroke="#1e1e1e" stroke-width="1.0" />
<text x="346.90" y="584.00" font-size="9.2" text-anchor="end" stroke="#1e1e1e" stroke-width="0.22">0.5</text>
<line x1="349.60" y1="626.10" x2="353.60" y2="626.10" stroke="#1e1e1e" stroke-width="1.0" />
<text x="346.90" y="629.30" font-size="9.2" text-anchor="end" stroke="#1e1e1e" stroke-width="0.22">0.0</text>
<line x1="364.90" y1="497.60" x2="364.90" y2="626.10" stroke="#0a0a0a" stroke-width="1.15" />
<line x1="360.50" y1="497.60" x2="369.30" y2="497.60" stroke="#0a0a0a" stroke-width="1.3" />
<rect x="357.20" y="555.30" width="15.40" height="62.00" fill="#a50a2e" />
<line x1="357.20" y1="596.00" x2="372.60" y2="596.00" stroke="#111" stroke-width="1.2" />
<line x1="364.90" y1="626.10" x2="364.90" y2="629.60" stroke="#1e1e1e" stroke-width="1.0" />
<line x1="387.30" y1="497.60" x2="387.30" y2="626.10" stroke="#0a0a0a" stroke-width="1.15" />
<line x1="382.90" y1="497.60" x2="391.70" y2="497.60" stroke="#0a0a0a" stroke-width="1.3" />
<rect x="379.60" y="581.20" width="15.40" height="38.80" fill="#2b4c8c" />
<line x1="379.60" y1="610.50" x2="395.00" y2="610.50" stroke="#111" stroke-width="1.2" />
<line x1="387.30" y1="626.10" x2="387.30" y2="629.60" stroke="#1e1e1e" stroke-width="1.0" />
<line x1="409.80" y1="497.60" x2="409.80" y2="626.10" stroke="#0a0a0a" stroke-width="1.15" />
<line x1="405.40" y1="497.60" x2="414.20" y2="497.60" stroke="#0a0a0a" stroke-width="1.3" />
<rect x="402.10" y="582.50" width="15.40" height="36.10" fill="#6cb33f" />
<line x1="402.10" y1="601.90" x2="417.50" y2="601.90" stroke="#111" stroke-width="1.2" />
<line x1="409.80" y1="626.10" x2="409.80" y2="629.60" stroke="#1e1e1e" stroke-width="1.0" />
<line x1="432.80" y1="497.60" x2="432.80" y2="626.10" stroke="#0a0a0a" stroke-width="1.15" />
<line x1="428.40" y1="497.60" x2="437.20" y2="497.60" stroke="#0a0a0a" stroke-width="1.3" />
<rect x="425.10" y="583.00" width="15.40" height="33.30" fill="#5a2570" />
<line x1="425.10" y1="600.40" x2="440.50" y2="600.40" stroke="#111" stroke-width="1.2" />
<line x1="432.80" y1="626.10" x2="432.80" y2="629.60" stroke="#1e1e1e" stroke-width="1.0" />
<line x1="455.50" y1="544.30" x2="455.50" y2="626.10" stroke="#0a0a0a" stroke-width="1.15" />
<line x1="451.10" y1="544.30" x2="459.90" y2="544.30" stroke="#0a0a0a" stroke-width="1.3" />
<rect x="447.80" y="615.90" width="15.40" height="7.70" fill="#eba936" />
<line x1="447.80" y1="620.30" x2="463.20" y2="620.30" stroke="#111" stroke-width="1.2" />
<line x1="455.50" y1="626.10" x2="455.50" y2="629.60" stroke="#1e1e1e" stroke-width="1.0" />
<line x1="478.10" y1="497.60" x2="478.10" y2="626.10" stroke="#0a0a0a" stroke-width="1.15" />
<line x1="473.70" y1="497.60" x2="482.50" y2="497.60" stroke="#0a0a0a" stroke-width="1.3" />
<rect x="470.40" y="614.80" width="15.40" height="8.80" fill="#2d5e4c" />
<line x1="470.40" y1="619.70" x2="485.80" y2="619.70" stroke="#111" stroke-width="1.2" />
<line x1="478.10" y1="626.10" x2="478.10" y2="629.60" stroke="#1e1e1e" stroke-width="1.0" />
<text x="328.20" y="555.80" font-size="10.4" text-anchor="middle" textLength="98.00" lengthAdjust="spacingAndGlyphs" stroke="#1e1e1e" stroke-width="0.22" transform="rotate(-90 328.20 555.80)">Coefficient of variation</text>
<text x="369.50" y="635.70" font-size="8.3" text-anchor="end" textLength="85.50" lengthAdjust="spacingAndGlyphs" stroke="#1e1e1e" stroke-width="0.22" transform="rotate(-45 369.50 635.70)">All variants PB vs BM</text>
<text x="391.80" y="636.50" font-size="8.3" text-anchor="end" textLength="112.00" lengthAdjust="spacingAndGlyphs" stroke="#1e1e1e" stroke-width="0.22" transform="rotate(-45 391.80 636.50)">Variants with lymphs &lt; 60%</text>
<text x="413.80" y="636.50" font-size="8.3" text-anchor="end" textLength="64.50" lengthAdjust="spacingAndGlyphs" stroke="#1e1e1e" stroke-width="0.22" transform="rotate(-45 413.80 636.50)">Pathologist 1 v 2</text>
<text x="436.80" y="636.50" font-size="8.3" text-anchor="end" textLength="64.50" lengthAdjust="spacingAndGlyphs" stroke="#1e1e1e" stroke-width="0.22" transform="rotate(-45 436.80 636.50)">Pathologist 1 v 3</text>
<text x="459.90" y="636.50" font-size="8.3" text-anchor="end" textLength="51.50" lengthAdjust="spacingAndGlyphs" stroke="#1e1e1e" stroke-width="0.22" transform="rotate(-45 459.90 636.50)">Library 1 vs 2</text>
<text x="483.00" y="636.50" font-size="8.3" text-anchor="end" textLength="53.50" lengthAdjust="spacingAndGlyphs" stroke="#1e1e1e" stroke-width="0.22" transform="rotate(-45 483.00 636.50)">Library 1 vs 3</text>
</svg>
</body></html>
